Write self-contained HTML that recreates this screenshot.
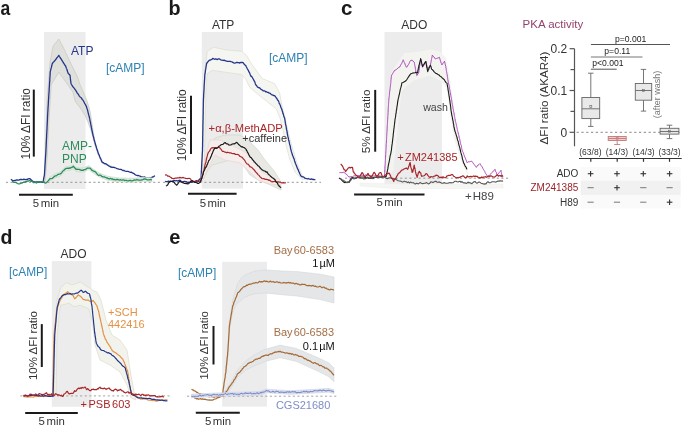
<!DOCTYPE html>
<html><head><meta charset="utf-8"><style>
html,body{margin:0;padding:0;background:#fff;width:685px;height:426px;overflow:hidden}
svg{display:block}
text{font-family:"Liberation Sans",sans-serif}
svg{will-change:transform}
</style></head><body>
<svg width="685" height="426" viewBox="0 0 685 426" font-family="Liberation Sans, sans-serif"><text x="0" y="15.2" font-size="19.5" fill="#1a1a1a" font-weight="bold" transform="translate(0.6,0) scale(0.9,1)">a</text>
<rect x="44.0" y="32.0" width="41.5" height="157.0" fill="#ececec"/>
<line x1="6.0" y1="182.3" x2="160.0" y2="182.3" stroke="#8a8a8a" stroke-width="0.9" stroke-dasharray="2.1,2.5"/>
<path d="M44.5,181.0 L45.5,150.0 L47.0,100.0 L50.0,62.0 L53.1,46.0 L58.8,39.0 L63.5,47.8 L71.0,63.8 L77.6,77.0 L80.2,85.0 L86.3,99.1 L88.6,105.7 L90.3,112.0 L91.8,122.0 L94.5,140.0 L98.5,155.0 L102.5,162.5 L112.0,166.3 L112.0,167.5 L101.8,163.0 L98.3,155.0 L94.8,145.0 L90.8,130.0 L88.1,122.6 L85.3,116.0 L80.6,108.5 L75.0,101.0 L72.9,92.0 L66.3,82.6 L58.8,72.3 L51.3,84.5 L49.0,120.0 L47.0,160.0 L45.0,182.0 Z" fill="#dfdfdb" stroke="#c4c4bb" stroke-width="0.6"/>
<path d="M10.9,179.3 L11.9,180.0 L12.9,180.9 L13.8,180.6 L14.6,180.5 L15.5,180.4 L16.4,180.0 L17.2,180.0 L18.1,180.1 L18.9,180.1 L19.8,179.7 L20.6,179.5 L21.4,179.3 L22.2,179.6 L23.1,179.6 L23.9,179.1 L24.7,179.5 L25.6,179.7 L26.5,179.5 L27.4,179.3 L28.2,178.9 L29.1,178.6 L30.0,178.7 L30.8,179.4 L31.6,180.2 L32.5,181.1 L33.3,181.8 L34.1,181.9 L34.9,181.9 L35.7,182.1 L36.5,182.0 L37.3,182.0 L38.1,182.0 L39.0,182.0 L39.8,181.9 L40.6,181.8 L41.5,182.2 L42.3,182.4 L43.1,182.4 L43.2,181.5 L43.4,180.4 L43.5,179.3 L43.7,178.5 L43.8,177.5 L44.0,177.1 L44.1,176.2 L44.3,175.7 L44.4,174.7 L44.5,174.2 L44.5,173.5 L44.6,172.1 L44.6,171.1 L44.7,170.7 L44.7,169.8 L44.8,169.3 L44.8,168.2 L44.9,167.1 L44.9,166.5 L45.0,165.9 L45.0,164.8 L45.1,163.7 L45.2,162.9 L45.2,162.6 L45.3,161.8 L45.3,160.6 L45.4,159.7 L45.4,158.7 L45.5,157.8 L45.5,157.4 L45.6,156.4 L45.6,155.7 L45.7,154.9 L45.7,153.9 L45.8,153.4 L45.8,152.3 L45.9,151.8 L45.9,150.7 L45.9,150.0 L46.0,149.1 L46.0,148.3 L46.1,147.9 L46.1,147.3 L46.1,146.2 L46.2,145.6 L46.2,144.5 L46.2,143.6 L46.3,143.1 L46.3,142.3 L46.4,141.2 L46.4,140.8 L46.4,139.7 L46.5,138.7 L46.5,138.2 L46.6,137.2 L46.6,136.3 L46.6,135.3 L46.7,134.4 L46.7,133.9 L46.8,133.0 L46.8,132.4 L46.8,131.6 L46.9,130.8 L46.9,130.4 L47.0,129.4 L47.0,128.6 L47.0,128.0 L47.1,126.8 L47.1,125.8 L47.2,125.4 L47.2,124.8 L47.2,123.6 L47.3,122.6 L47.3,122.1 L47.4,121.6 L47.4,120.4 L47.4,119.9 L47.5,119.3 L47.5,118.3 L47.5,117.3 L47.6,116.2 L47.6,115.2 L47.7,114.9 L47.7,113.9 L47.7,113.3 L47.8,112.3 L47.8,111.8 L47.9,111.0 L47.9,109.9 L48.0,108.9 L48.0,108.4 L48.1,107.3 L48.1,106.4 L48.2,105.8 L48.2,105.3 L48.3,104.5 L48.3,103.4 L48.4,102.9 L48.4,101.7 L48.5,100.6 L48.5,99.8 L48.6,99.2 L48.6,98.1 L48.7,97.3 L48.7,96.6 L48.8,96.0 L48.8,95.0 L48.9,94.2 L48.9,93.8 L49.0,93.2 L49.0,92.3 L49.1,91.5 L49.1,90.6 L49.2,89.4 L49.2,88.4 L49.3,87.4 L49.3,87.1 L49.4,86.4 L49.4,85.9 L49.5,84.5 L49.5,83.8 L49.6,83.0 L49.6,82.3 L49.7,81.3 L49.8,80.8 L49.8,79.5 L49.8,78.8 L49.9,78.1 L49.9,77.5 L50.0,76.6 L50.0,75.8 L50.1,75.0 L50.1,74.3 L50.2,73.1 L50.2,72.3 L50.3,71.7 L50.5,70.9 L50.7,69.8 L50.9,69.1 L51.1,68.4 L51.4,67.4 L51.6,66.5 L51.8,65.5 L52.0,64.7 L52.2,63.9 L52.9,62.6 L53.6,61.9 L54.3,61.3 L55.0,60.4 L55.8,59.5 L56.5,58.3 L57.3,57.5 L58.0,56.5 L58.8,55.4 L59.4,56.6 L59.9,57.1 L60.5,58.3 L61.0,58.8 L61.6,59.9 L62.1,60.8 L62.7,61.4 L63.2,62.5 L63.8,63.3 L64.3,64.2 L64.9,65.2 L65.4,65.7 L65.7,66.2 L66.0,67.1 L66.3,68.2 L66.6,68.8 L67.0,69.5 L67.3,70.8 L67.6,71.7 L67.9,72.4 L68.2,73.5 L69.1,74.2 L70.0,75.2 L70.1,75.8 L70.2,76.7 L70.3,77.8 L70.4,78.8 L70.5,79.7 L70.6,80.3 L70.7,81.1 L70.8,81.8 L70.9,82.4 L71.0,83.4 L71.5,84.5 L72.1,85.5 L72.7,86.3 L73.2,87.3 L73.8,87.7 L74.3,88.3 L74.8,89.2 L75.4,89.9 L75.9,90.7 L76.5,91.6 L77.0,92.6 L77.6,93.5 L78.3,94.2 L78.9,95.3 L79.6,96.4 L80.2,97.0 L80.9,97.5 L81.5,98.1 L82.2,99.4 L82.8,99.9 L83.5,101.0 L83.9,101.9 L84.3,102.5 L84.7,103.6 L85.1,104.0 L85.5,104.7 L85.9,105.7 L86.3,106.2 L86.7,107.5 L86.9,108.2 L87.2,108.9 L87.4,109.6 L87.7,110.7 L87.9,111.6 L88.1,112.6 L88.4,113.6 L88.6,114.6 L88.9,115.6 L89.1,116.4 L89.3,116.8 L89.4,117.6 L89.6,118.3 L89.8,118.9 L89.9,119.9 L90.1,121.1 L90.3,121.7 L90.5,122.5 L90.6,123.3 L90.8,124.4 L91.0,125.3 L91.1,126.2 L91.3,127.2 L91.5,127.9 L91.7,128.9 L91.8,129.9 L92.0,130.3 L92.2,131.5 L92.4,132.4 L92.5,132.8 L92.7,133.7 L92.9,134.7 L93.1,135.8 L93.4,136.4 L93.6,137.2 L93.8,138.2 L94.0,139.1 L94.2,140.1 L94.5,140.6 L94.7,141.5 L94.9,142.0 L95.1,143.0 L95.4,144.0 L95.6,144.8 L95.8,145.7 L96.1,146.2 L96.4,147.4 L96.7,148.5 L97.0,149.4 L97.3,150.0 L97.5,150.9 L97.8,151.5 L98.1,152.6 L98.4,153.6 L98.7,154.1 L99.0,154.7 L99.4,155.6 L99.7,156.5 L100.1,157.5 L100.4,158.3 L100.8,158.7 L101.1,159.9 L101.5,160.4 L101.8,161.6 L102.2,162.1 L103.2,162.6 L104.3,163.5 L105.3,163.7 L106.4,164.1 L107.2,164.7 L108.1,165.4 L108.9,166.0 L109.8,166.4 L110.6,167.0 L111.4,167.1 L112.2,167.5 L113.1,167.2 L113.9,167.3 L114.7,167.7 L115.5,167.8 L116.4,168.3 L117.2,168.6 L118.0,168.8 L118.8,169.2 L119.6,169.3 L120.5,169.4 L121.3,169.5 L122.1,170.1 L122.9,170.5 L123.8,170.3 L124.6,170.8 L125.4,171.2 L126.2,171.3 L127.0,171.4 L127.9,171.4 L128.7,171.7 L129.5,172.0 L130.3,172.3 L131.2,172.1 L132.0,172.8 L132.8,173.0 L133.9,173.6 L134.9,174.5 L136.0,175.1 L136.8,175.3 L137.6,175.6 L138.5,175.5 L139.3,175.9 L140.1,176.1 L140.9,176.7 L141.8,177.1 L142.6,176.9 L143.4,177.1 L144.3,177.0 L145.2,177.2 L146.1,177.7 L147.0,178.1 L147.9,178.0 L148.8,178.0 L149.7,178.0 L150.6,177.8 L151.5,177.8 L152.3,177.0 L153.2,176.9 L154.1,176.2 L155.0,175.8" fill="none" stroke="#25368a" stroke-width="1.3" stroke-linejoin="round"/>
<path d="M49.7,177.3 L50.7,176.6 L51.8,176.0 L52.8,175.3 L53.9,174.7 L54.9,174.0 L56.0,173.6 L57.0,173.2 L58.1,172.9 L59.1,172.5 L60.2,172.1 L61.2,171.0 L62.3,170.0 L63.3,168.9 L64.4,167.9 L65.4,166.8 L66.5,166.7 L67.5,166.5 L68.6,166.4 L69.6,166.2 L70.7,166.1 L72.0,165.4 L73.3,164.8 L74.7,166.2 L76.0,167.5 L77.0,167.6 L78.1,167.7 L79.1,167.9 L80.2,168.0 L81.2,168.1 L82.2,168.0 L83.2,167.8 L84.2,167.7 L85.4,167.2 L86.6,166.6 L87.7,166.1 L88.9,165.6 L90.2,166.7 L91.4,167.7 L92.7,168.8 L93.8,169.5 L94.8,170.2 L95.8,170.9 L96.9,171.6 L98.0,172.3 L99.0,173.0 L100.1,173.4 L101.1,173.8 L102.2,174.2 L103.2,174.6 L104.3,175.0 L105.4,175.4 L106.4,175.8 L107.5,176.2 L108.5,176.4 L109.6,176.5 L110.7,176.7 L111.7,176.9 L112.8,177.1 L113.8,177.2 L114.8,177.4 L115.9,177.6 L117.0,177.7 L118.0,177.9 L119.1,177.9 L120.1,178.0 L121.2,178.0 L122.2,178.0 L123.3,178.0 L124.3,178.1 L125.4,178.1 L126.5,178.1 L127.5,178.2 L128.6,178.2 L129.6,178.2 L130.7,178.2 L131.7,178.3 L132.8,178.3 L133.9,178.2 L134.9,178.1 L136.0,178.0 L137.0,177.9 L138.1,177.8 L139.2,177.6 L140.2,177.5 L141.3,177.4 L142.3,177.3 L143.4,177.2 L144.5,177.3 L145.5,177.4 L146.6,177.5 L147.6,177.6 L148.7,177.6 L149.7,177.7 L150.8,177.8 L151.8,177.9 L151.8,181.9 L150.8,181.8 L149.7,181.7 L148.7,181.6 L147.6,181.6 L146.6,181.5 L145.5,181.4 L144.5,181.3 L143.4,181.2 L142.3,181.3 L141.3,181.4 L140.2,181.5 L139.2,181.6 L138.1,181.8 L137.0,181.9 L136.0,182.0 L134.9,182.1 L133.9,182.2 L132.8,182.3 L131.7,182.3 L130.7,182.2 L129.6,182.2 L128.6,182.2 L127.5,182.2 L126.5,182.1 L125.4,182.1 L124.3,182.1 L123.3,182.0 L122.2,182.0 L121.2,182.0 L120.1,182.0 L119.1,181.9 L118.0,181.9 L117.0,181.7 L115.9,181.6 L114.8,181.4 L113.8,181.2 L112.8,181.1 L111.7,180.9 L110.7,180.7 L109.6,180.5 L108.5,180.4 L107.5,180.2 L106.4,179.8 L105.4,179.4 L104.3,179.0 L103.2,178.6 L102.2,178.2 L101.1,177.8 L100.1,177.4 L99.0,177.0 L98.0,176.3 L96.9,175.6 L95.8,174.9 L94.8,174.2 L93.8,173.5 L92.7,172.8 L91.4,171.7 L90.2,170.7 L88.9,169.6 L87.7,170.1 L86.6,170.6 L85.4,171.2 L84.2,171.7 L83.2,171.8 L82.2,172.0 L81.2,172.1 L80.2,172.0 L79.1,171.9 L78.1,171.7 L77.0,171.6 L76.0,171.5 L74.7,170.2 L73.3,168.8 L72.0,169.4 L70.7,170.1 L69.6,170.2 L68.6,170.4 L67.5,170.5 L66.5,170.7 L65.4,170.8 L64.4,171.9 L63.3,172.9 L62.3,174.0 L61.2,175.0 L60.2,176.1 L59.1,176.5 L58.1,176.9 L57.0,177.2 L56.0,177.6 L54.9,178.0 L53.9,178.7 L52.8,179.3 L51.8,180.0 L50.7,180.6 L49.7,181.3 Z" fill="#e2eae3" stroke="#bcd6c2" stroke-width="0.6"/>
<path d="M12.2,181.3 L13.1,181.9 L14.0,182.4 L14.8,182.4 L15.7,182.4 L16.6,183.0 L17.5,183.5 L18.3,183.8 L19.2,183.8 L20.0,183.6 L20.9,183.3 L21.7,183.2 L22.6,182.6 L23.4,182.4 L24.2,181.9 L25.0,182.3 L25.9,181.5 L26.7,181.7 L27.5,181.0 L28.4,181.1 L29.2,180.7 L30.0,180.4 L30.8,181.4 L31.6,181.2 L32.5,181.5 L33.3,182.7 L34.1,182.6 L34.9,182.1 L35.8,182.7 L36.6,183.0 L37.4,182.2 L38.2,182.1 L39.0,181.8 L39.8,181.7 L40.6,182.0 L41.5,181.6 L42.3,182.0 L43.1,181.5 L44.0,181.8 L44.8,182.9 L45.7,183.2 L46.5,182.4 L47.3,181.7 L48.1,180.9 L48.9,180.0 L49.7,178.8 L50.6,178.7 L51.4,178.6 L52.3,178.4 L53.2,177.6 L54.0,176.7 L54.9,175.9 L55.8,175.8 L56.7,175.6 L57.5,174.8 L58.4,174.3 L59.3,174.1 L60.2,173.9 L61.1,173.4 L61.9,172.4 L62.8,171.0 L63.7,170.7 L64.5,169.7 L65.4,168.8 L66.3,168.4 L67.2,168.4 L68.1,168.2 L68.9,168.5 L69.8,167.9 L70.7,168.0 L71.6,167.3 L72.4,167.2 L73.3,166.3 L74.2,167.2 L75.1,168.2 L76.0,169.4 L76.9,169.1 L77.7,169.4 L78.6,169.4 L79.5,169.5 L80.3,169.8 L81.2,170.4 L82.2,170.1 L83.2,170.4 L84.2,169.6 L85.1,169.7 L86.1,168.9 L87.0,168.2 L88.0,168.1 L88.9,168.1 L89.9,168.1 L90.8,168.8 L91.8,170.1 L92.7,170.7 L93.6,171.1 L94.5,171.4 L95.4,171.8 L96.3,172.9 L97.2,174.1 L98.1,175.1 L99.0,175.3 L99.8,175.0 L100.7,175.3 L101.5,176.1 L102.4,176.7 L103.2,176.9 L104.1,176.8 L105.0,177.2 L105.8,177.5 L106.7,178.0 L107.5,178.0 L108.3,178.7 L109.1,179.0 L109.9,178.5 L110.7,178.5 L111.5,179.1 L112.3,178.9 L113.2,179.5 L114.0,179.5 L114.8,179.7 L115.6,179.9 L116.4,179.5 L117.2,179.5 L118.0,179.5 L118.8,179.9 L119.6,180.1 L120.5,179.7 L121.3,180.2 L122.1,180.1 L122.9,179.8 L123.8,179.9 L124.6,180.5 L125.4,180.4 L126.2,180.4 L127.0,180.7 L127.9,180.9 L128.7,180.8 L129.5,180.4 L130.3,180.4 L131.2,180.8 L132.0,180.8 L132.8,180.7 L133.6,180.2 L134.4,180.0 L135.2,180.2 L136.1,180.1 L136.9,179.5 L137.7,179.8 L138.5,180.1 L139.3,180.1 L140.1,180.2 L141.0,180.2 L141.8,179.8 L142.6,179.8 L143.4,179.3 L144.2,178.9 L145.1,179.0 L145.9,179.1 L146.8,179.7 L147.6,179.9 L148.4,179.8 L149.3,179.9 L150.1,179.5 L151.0,179.7 L151.8,180.1" fill="none" stroke="#2d8c5c" stroke-width="1.3" stroke-linejoin="round"/>
<text x="71.0" y="55.2" font-size="12" fill="#25368a" text-anchor="start" font-weight="normal">ATP</text>
<text x="106.0" y="72.3" font-size="12" fill="#2b82b3" text-anchor="start" font-weight="normal">[cAMP]</text>
<text x="62.0" y="150.3" font-size="12" fill="#2d8c5c" text-anchor="start" font-weight="normal">AMP-</text>
<text x="62.0" y="162.7" font-size="12" fill="#2d8c5c" text-anchor="start" font-weight="normal">PNP</text>
<line x1="33.8" y1="89.6" x2="33.8" y2="156.6" stroke="#1a1a1a" stroke-width="2"/>
<text x="30.2" y="159.4" font-size="11.9" fill="#333" text-anchor="start" font-weight="normal" transform="rotate(-90 30.2 159.4)">10% ΔFI ratio</text>
<line x1="19.0" y1="194.8" x2="72.8" y2="194.8" stroke="#1a1a1a" stroke-width="2"/>
<text x="32.8" y="206.8" font-size="11.4" fill="#333" text-anchor="start" font-weight="normal">5<tspan dx='1.5'>min</tspan></text>
<text x="168.6" y="14.9" font-size="19.8" fill="#1a1a1a" text-anchor="start" font-weight="bold">b</text>
<text x="211.9" y="28.9" font-size="12" fill="#333" text-anchor="start" font-weight="normal">ATP</text>
<rect x="201.8" y="32.0" width="41.2" height="156.6" fill="#ececec"/>
<line x1="163.0" y1="182.3" x2="321.0" y2="182.3" stroke="#8a8a8a" stroke-width="0.9" stroke-dasharray="2.1,2.5"/>
<path d="M202.0,179.0 L203.0,120.0 L205.0,70.0 L207.2,51.3 L213.5,47.3 L226.2,49.9 L241.7,51.3 L246.6,55.5 L251.5,63.9 L262.3,78.6 L274.6,83.5 L279.6,92.6 L282.0,105.7 L285.5,120.0 L289.5,137.0 L293.0,150.0 L297.0,163.0 L302.0,175.0 L306.0,179.0 L302.0,179.5 L295.0,172.0 L290.0,160.0 L286.0,145.0 L283.0,130.0 L280.0,118.0 L276.3,109.0 L268.1,102.4 L259.9,95.9 L250.0,87.6 L245.9,79.4 L241.7,74.5 L226.2,72.4 L212.1,70.3 L207.2,73.8 L206.0,90.0 L205.0,130.0 L204.0,179.0 Z" fill="#f5f5f1" stroke="#d8dac8" stroke-width="0.6"/>
<path d="M165.1,181.3 L166.0,181.6 L166.9,181.6 L167.8,181.5 L168.6,181.1 L169.5,181.5 L170.4,181.6 L171.3,181.4 L172.2,181.3 L173.0,180.9 L173.9,180.5 L174.8,180.6 L175.7,180.9 L176.5,180.5 L177.4,181.0 L178.3,180.6 L179.1,180.5 L180.0,180.1 L180.8,181.1 L181.6,181.4 L182.4,181.8 L183.2,181.8 L184.0,181.3 L184.8,181.4 L185.6,181.7 L186.4,181.6 L187.2,182.4 L188.0,182.3 L188.8,182.1 L189.7,182.5 L190.5,181.9 L191.4,182.4 L192.3,182.1 L193.2,181.9 L194.0,181.6 L194.9,181.5 L195.8,181.1 L196.6,180.7 L197.5,181.2 L198.4,180.2 L199.2,179.8 L200.1,178.7 L201.0,178.5 L201.0,177.9 L201.1,177.0 L201.1,176.2 L201.2,175.2 L201.2,174.5 L201.3,173.1 L201.3,172.4 L201.3,171.9 L201.4,170.7 L201.4,170.4 L201.5,169.8 L201.5,168.7 L201.6,167.6 L201.6,166.8 L201.6,165.9 L201.7,165.7 L201.7,164.5 L201.8,163.2 L201.8,162.2 L201.9,162.0 L201.9,161.7 L201.9,160.7 L202.0,159.7 L202.0,158.9 L202.1,158.3 L202.1,157.1 L202.2,156.5 L202.2,155.7 L202.2,155.0 L202.3,153.8 L202.3,152.8 L202.4,152.0 L202.4,151.8 L202.5,150.8 L202.5,150.1 L202.5,149.0 L202.5,147.9 L202.5,146.9 L202.6,146.8 L202.6,146.2 L202.6,145.2 L202.6,144.5 L202.6,143.8 L202.6,143.3 L202.6,142.7 L202.7,141.4 L202.7,140.9 L202.7,140.3 L202.7,139.2 L202.7,138.5 L202.7,137.4 L202.7,136.3 L202.8,135.2 L202.8,134.9 L202.8,133.7 L202.8,132.5 L202.8,132.3 L202.8,131.7 L202.8,130.8 L202.9,130.2 L202.9,128.8 L202.9,127.9 L202.9,127.0 L202.9,126.3 L202.9,125.3 L202.9,124.3 L203.0,123.7 L203.0,123.5 L203.0,123.1 L203.0,122.3 L203.0,121.2 L203.0,120.0 L203.1,119.8 L203.1,118.8 L203.1,118.1 L203.1,116.6 L203.1,115.7 L203.1,115.4 L203.1,114.9 L203.2,114.3 L203.2,113.3 L203.2,112.2 L203.2,111.4 L203.2,110.9 L203.2,109.7 L203.2,108.9 L203.3,107.9 L203.3,107.4 L203.3,106.0 L203.3,105.6 L203.3,105.3 L203.3,103.8 L203.3,103.2 L203.4,102.5 L203.4,102.0 L203.4,101.1 L203.4,99.9 L203.4,99.0 L203.5,98.7 L203.5,98.1 L203.6,96.6 L203.6,95.4 L203.7,94.4 L203.7,93.4 L203.8,92.9 L203.8,92.0 L203.9,91.8 L203.9,91.1 L204.0,89.8 L204.0,89.2 L204.1,88.2 L204.1,87.5 L204.1,86.4 L204.2,85.4 L204.2,84.6 L204.3,83.9 L204.3,83.5 L204.4,82.7 L204.4,81.4 L204.5,81.0 L204.5,80.5 L204.6,79.8 L204.6,79.0 L204.7,77.4 L204.7,76.7 L204.8,75.5 L204.8,75.2 L204.9,74.1 L205.0,73.6 L205.2,72.6 L205.3,72.1 L205.4,71.0 L205.5,69.8 L205.7,69.2 L205.8,68.4 L205.9,68.1 L206.0,67.0 L206.1,66.3 L206.3,65.5 L206.4,65.2 L206.5,63.7 L207.0,63.0 L207.6,62.2 L208.1,61.5 L208.6,61.0 L209.4,60.2 L210.2,60.1 L211.1,59.7 L211.9,59.3 L212.7,58.5 L213.5,58.7 L214.4,59.3 L215.2,59.0 L216.1,58.9 L217.0,59.6 L217.9,59.1 L218.8,58.9 L219.6,58.9 L220.5,59.7 L221.4,60.2 L222.3,60.2 L223.2,60.5 L224.1,60.1 L224.9,60.7 L225.8,60.9 L226.7,61.2 L227.6,61.3 L228.5,61.4 L229.3,61.4 L230.2,61.3 L231.1,61.7 L232.0,61.8 L232.8,62.4 L233.7,62.9 L234.6,63.2 L235.4,62.9 L236.3,62.5 L237.2,62.5 L238.0,62.6 L238.8,62.7 L239.7,63.1 L240.5,62.4 L241.4,62.5 L242.2,62.5 L243.1,62.7 L244.0,64.0 L245.0,65.0 L245.9,65.8 L246.3,66.7 L246.7,67.5 L247.2,68.5 L247.6,69.2 L248.0,70.0 L248.4,70.4 L248.8,71.7 L249.3,72.2 L249.7,73.1 L250.1,74.2 L250.6,75.4 L251.1,76.4 L251.6,76.4 L252.1,77.2 L252.6,78.0 L253.1,78.9 L253.6,79.6 L254.0,80.8 L254.5,81.3 L254.9,82.2 L255.3,83.7 L255.7,84.7 L256.2,85.3 L256.6,85.7 L257.4,86.9 L258.2,87.5 L259.0,87.6 L259.9,88.1 L260.7,89.0 L261.5,89.7 L262.3,90.0 L263.1,90.8 L264.0,90.8 L264.8,90.9 L265.6,91.8 L266.4,91.7 L267.3,92.3 L268.1,92.3 L268.9,93.0 L269.7,93.2 L270.5,93.6 L271.4,94.6 L272.2,94.8 L273.0,95.1 L273.8,95.6 L274.6,95.7 L275.2,96.3 L275.8,97.2 L276.4,98.0 L277.0,98.7 L277.6,100.2 L278.2,100.4 L278.8,101.7 L279.1,102.9 L279.4,103.7 L279.7,103.8 L280.0,104.8 L280.3,105.2 L280.6,106.4 L280.9,107.5 L281.2,108.0 L281.5,108.4 L281.8,109.6 L282.0,110.1 L282.3,111.0 L282.6,112.0 L282.9,113.3 L283.1,113.9 L283.4,114.4 L283.7,115.7 L284.0,116.7 L284.2,117.4 L284.5,117.7 L284.7,118.3 L284.8,119.3 L285.0,120.4 L285.1,121.0 L285.3,122.3 L285.4,123.4 L285.6,124.4 L285.7,125.3 L285.9,125.3 L286.0,126.3 L286.2,126.7 L286.3,128.1 L286.5,129.1 L286.6,130.0 L286.8,130.3 L286.9,130.7 L287.1,132.1 L287.2,133.0 L287.4,133.9 L287.5,134.6 L287.7,135.7 L287.8,136.2 L288.0,136.8 L288.2,137.5 L288.4,138.3 L288.5,139.4 L288.7,140.6 L288.9,140.8 L289.1,141.3 L289.3,142.4 L289.5,143.5 L289.6,144.0 L289.8,144.7 L290.0,145.2 L290.2,145.9 L290.4,147.1 L290.6,148.3 L290.7,149.2 L290.9,149.6 L291.1,150.2 L291.4,151.7 L291.7,152.5 L292.0,153.2 L292.2,154.3 L292.5,155.2 L292.8,156.0 L293.1,156.3 L293.4,157.6 L293.7,158.1 L294.0,158.6 L294.3,159.6 L294.5,160.7 L294.8,161.7 L295.1,162.2 L295.4,163.5 L295.8,164.3 L296.1,164.7 L296.5,166.1 L296.9,167.1 L297.3,168.1 L297.6,168.9 L298.0,169.2 L298.4,170.3 L298.7,171.4 L299.1,172.0 L299.5,173.1 L299.9,174.1 L300.2,174.4 L300.6,175.6 L301.5,176.4 L302.3,176.9 L303.2,176.8 L304.0,177.3 L304.9,178.2 L305.7,178.4 L306.5,178.7 L307.4,178.9 L308.2,178.5 L309.0,179.1 L309.9,179.1 L310.8,179.4 L311.7,178.9 L312.7,179.5 L313.6,179.4 L314.5,179.6 L315.4,179.7" fill="none" stroke="#25368a" stroke-width="1.3" stroke-linejoin="round"/>
<path d="M201.0,181.0 L205.0,160.0 L210.0,145.0 L215.0,138.0 L225.0,135.0 L240.0,135.0 L248.0,140.0 L258.0,150.0 L265.0,160.0 L275.0,172.0 L281.0,182.0 L281.0,190.0 L268.0,184.0 L258.0,180.0 L250.0,175.0 L242.0,163.0 L230.0,160.0 L212.0,165.0 L208.0,170.0 L201.0,183.0 Z" fill="#e8e9e4" stroke="#cdd2c4" stroke-width="0.6"/>
<path d="M201.0,180.0 L205.0,160.0 L210.0,140.0 L220.0,140.0 L235.0,147.0 L245.0,152.0 L255.0,162.0 L262.0,172.0 L275.0,179.0 L280.0,185.0 L270.0,184.0 L258.0,180.0 L250.0,172.0 L240.0,163.0 L225.0,160.0 L215.0,155.0 L208.0,168.0 L202.0,182.0 Z" fill="#f6eeec" stroke="#e6d3cf" stroke-width="0.6"/>
<path d="M165.1,175.1 L166.0,174.9 L166.8,175.0 L167.7,176.2 L168.6,176.2 L169.5,176.4 L170.4,177.2 L171.2,177.5 L172.1,178.5 L173.0,178.5 L173.9,178.8 L174.8,178.2 L175.7,178.1 L176.5,178.2 L177.4,177.9 L178.3,177.9 L179.1,177.9 L179.9,177.3 L180.7,177.8 L181.6,177.8 L182.4,177.6 L183.2,177.4 L184.0,178.0 L184.8,178.0 L185.6,178.4 L186.4,178.5 L187.3,178.7 L188.1,178.4 L188.9,178.5 L189.7,178.4 L190.6,179.1 L191.4,180.7 L192.3,180.5 L193.1,181.0 L194.0,181.5 L194.9,181.5 L195.8,181.1 L196.6,181.7 L197.5,181.9 L198.5,181.4 L199.6,181.0 L200.6,181.3 L200.9,180.0 L201.2,179.9 L201.5,179.0 L201.8,178.1 L202.0,177.1 L202.3,176.4 L202.6,175.9 L202.9,174.6 L203.2,173.6 L203.4,172.9 L203.5,171.9 L203.7,171.2 L203.9,170.5 L204.1,169.6 L204.2,168.9 L204.4,168.1 L204.6,166.8 L204.8,166.7 L204.9,165.5 L205.1,164.6 L205.3,163.7 L205.5,163.3 L205.8,162.8 L206.0,161.6 L206.2,160.5 L206.4,159.2 L206.6,158.9 L206.8,157.6 L207.0,156.9 L207.3,155.9 L207.5,155.0 L207.7,154.1 L208.2,153.1 L208.6,152.0 L209.1,151.6 L209.5,151.2 L210.0,150.4 L210.4,149.2 L210.9,148.6 L211.9,147.8 L212.9,147.6 L213.8,147.8 L214.8,147.8 L215.7,147.5 L216.5,147.8 L217.4,147.5 L218.2,147.4 L219.1,147.5 L219.9,147.9 L220.6,148.8 L221.2,149.4 L221.8,150.5 L222.5,151.4 L223.4,151.3 L224.2,151.8 L225.1,152.2 L226.0,152.3 L226.8,152.8 L227.7,152.2 L228.5,152.5 L229.4,152.9 L230.2,152.9 L231.1,152.9 L232.0,153.5 L232.8,153.6 L233.7,153.7 L234.5,153.5 L235.4,154.5 L236.3,154.5 L237.1,154.4 L238.0,154.5 L239.0,155.2 L239.9,156.4 L240.9,156.7 L241.9,157.2 L242.6,157.8 L243.4,158.9 L244.1,159.6 L244.8,160.5 L245.5,161.8 L246.3,163.0 L247.0,164.0 L248.0,164.2 L248.9,165.1 L249.9,166.6 L250.9,167.0 L251.9,167.6 L252.9,168.7 L253.8,169.5 L254.8,170.6 L255.4,171.7 L256.1,172.4 L256.7,173.0 L257.4,173.7 L258.0,174.6 L259.0,175.4 L260.1,176.9 L261.1,177.7 L261.9,178.5 L262.8,178.8 L263.6,178.5 L264.5,178.9 L265.3,179.4 L266.2,179.2 L267.0,179.6 L267.8,179.5 L268.7,180.3 L269.5,180.1 L270.4,180.7 L271.2,181.5 L272.1,181.9 L272.9,181.6 L273.7,181.7 L274.5,181.4 L275.3,181.5 L276.1,182.1 L276.9,182.4 L277.7,181.8 L278.5,181.9 L279.4,182.2 L280.2,182.0 L281.0,182.5 L281.8,182.9 L282.6,182.8 L283.4,182.6 L284.2,183.0 L285.0,182.9 L285.8,182.6" fill="none" stroke="#a8262a" stroke-width="1.2" stroke-linejoin="round"/>
<path d="M166.0,186.1 L166.9,185.5 L167.8,184.7 L168.6,182.9 L169.5,182.2 L170.4,181.1 L171.3,181.5 L172.2,181.4 L173.0,181.6 L173.9,182.1 L174.6,182.9 L175.2,183.9 L175.8,184.4 L176.5,185.1 L177.0,184.9 L177.6,184.1 L178.1,183.3 L178.7,182.7 L179.2,181.6 L180.1,181.2 L180.9,182.0 L181.8,182.3 L182.6,182.6 L183.5,182.8 L184.4,183.5 L185.3,183.2 L186.1,183.7 L187.0,183.6 L187.9,183.9 L188.8,183.4 L189.7,182.5 L190.5,181.5 L191.4,181.1 L192.3,180.9 L193.2,181.5 L194.0,181.8 L194.9,182.5 L195.8,182.5 L196.6,182.8 L197.5,183.3 L198.5,183.5 L199.6,182.6 L200.6,181.9 L200.8,180.9 L201.1,179.9 L201.3,179.3 L201.5,179.0 L201.7,178.7 L202.0,177.5 L202.2,176.6 L202.4,175.6 L202.7,174.8 L202.9,174.5 L203.1,173.7 L203.3,172.5 L203.6,171.3 L203.8,171.1 L204.2,170.6 L204.6,170.0 L205.0,168.6 L205.4,167.9 L205.8,167.5 L206.3,166.6 L206.7,166.1 L207.1,164.5 L207.5,164.3 L207.9,162.7 L208.3,161.9 L208.7,160.6 L209.0,160.5 L209.4,159.9 L209.7,159.5 L210.1,158.7 L210.4,158.1 L210.8,156.9 L211.1,156.4 L211.5,155.5 L211.8,154.1 L212.2,153.8 L212.7,152.4 L213.2,151.0 L213.8,149.7 L214.3,149.1 L214.8,148.0 L215.9,148.3 L216.9,148.4 L218.0,147.3 L219.0,146.2 L219.9,145.8 L220.9,144.9 L221.9,144.5 L223.0,144.3 L224.0,143.2 L225.1,142.5 L226.1,143.6 L227.1,143.8 L228.0,144.1 L229.0,145.1 L229.8,145.0 L230.7,145.0 L231.5,144.6 L232.4,144.0 L233.2,143.9 L234.1,143.9 L235.0,143.6 L235.8,142.8 L236.7,142.4 L237.7,143.3 L238.6,144.5 L239.6,145.3 L240.6,146.1 L241.4,146.9 L242.3,146.6 L243.1,147.3 L244.0,147.5 L244.8,148.1 L245.7,148.9 L246.1,149.3 L246.6,150.7 L247.0,150.8 L247.4,151.9 L247.9,152.9 L248.3,153.4 L248.7,154.5 L249.2,155.4 L249.6,156.2 L250.4,157.4 L251.2,157.6 L251.9,158.6 L252.7,160.0 L253.5,160.4 L254.2,161.9 L255.0,162.3 L255.8,163.5 L256.5,163.9 L257.2,164.9 L258.0,165.8 L258.9,166.2 L259.8,167.5 L260.6,168.3 L261.5,169.3 L262.4,170.0 L263.3,170.5 L264.2,170.9 L265.2,171.1 L266.1,172.1 L267.0,171.9 L267.8,173.3 L268.6,174.4 L269.5,175.0 L270.3,176.0 L271.1,176.7 L271.9,177.5 L272.7,177.9 L273.6,178.5 L274.4,179.3 L275.2,180.0 L275.8,181.6 L276.4,182.0 L277.0,182.7 L277.6,183.5 L278.1,184.8 L278.7,185.4 L279.3,186.3 L279.9,186.7 L280.5,187.4 L281.1,187.9" fill="none" stroke="#1a1a1a" stroke-width="1.2" stroke-linejoin="round"/>
<text x="269.0" y="62.1" font-size="12" fill="#2b82b3" text-anchor="start" font-weight="normal">[cAMP]</text>
<text x="208.6" y="131.6" font-size="11.2" fill="#a8262a" text-anchor="start" font-weight="normal">+α,β-MethADP</text>
<text x="242.3" y="142.4" font-size="11" fill="#333" text-anchor="start" font-weight="normal">+caffeine</text>
<line x1="191.0" y1="95.8" x2="191.0" y2="154.0" stroke="#1a1a1a" stroke-width="2"/>
<text x="186.3" y="161.3" font-size="12" fill="#333" text-anchor="start" font-weight="normal" transform="rotate(-90 186.3 161.3)">10% ΔFI ratio</text>
<line x1="188.0" y1="193.8" x2="236.6" y2="193.8" stroke="#1a1a1a" stroke-width="2"/>
<text x="199.7" y="206.7" font-size="11.4" fill="#333" text-anchor="start" font-weight="normal">5<tspan dx='1.5'>min</tspan></text>
<text x="340.9" y="15.3" font-size="20.5" fill="#1a1a1a" text-anchor="start" font-weight="bold">c</text>
<text x="401.3" y="28.9" font-size="12" fill="#333" text-anchor="start" font-weight="normal">ADO</text>
<rect x="384.5" y="32.0" width="57.4" height="156.0" fill="#ececec"/>
<line x1="345.0" y1="178.2" x2="509.0" y2="178.2" stroke="#8a8a8a" stroke-width="0.9" stroke-dasharray="2.1,2.5"/>
<path d="M386.0,176.0 L389.0,110.0 L392.0,72.0 L400.0,60.0 L405.0,53.0 L412.0,53.0 L420.0,52.0 L430.0,50.0 L440.0,52.0 L446.0,58.0 L450.0,80.0 L455.0,120.0 L460.0,150.0 L468.0,172.0 L468.0,176.0 L460.0,158.0 L454.0,138.0 L450.0,112.0 L447.0,88.0 L440.0,80.0 L430.0,75.0 L414.0,80.0 L406.0,86.0 L401.0,92.0 L397.0,130.0 L393.0,170.0 L387.0,178.0 Z" fill="#f3f3f0" stroke="#f7f7f2" stroke-width="0.6"/>
<path d="M360.0,183.0 L400.0,184.0 L503.0,184.0 L503.0,188.0 L400.0,189.0 L360.0,186.0 Z" fill="#f5f5f3" stroke="#efefea" stroke-width="0.6"/>
<path d="M339.4,172.7 L340.3,172.5 L341.2,172.6 L342.0,172.8 L342.9,172.5 L343.8,172.2 L344.7,172.8 L345.5,173.8 L346.4,174.1 L347.3,175.3 L348.1,176.4 L349.0,176.9 L349.9,176.9 L350.7,176.7 L351.6,176.5 L352.4,176.8 L353.3,176.2 L354.1,175.7 L355.0,176.1 L355.8,175.9 L356.7,175.6 L357.5,175.5 L358.3,175.4 L359.2,175.8 L360.0,175.4 L360.8,175.1 L361.7,175.3 L362.5,175.3 L363.3,175.5 L364.2,175.5 L365.0,175.1 L365.8,174.9 L366.7,175.3 L367.5,175.7 L368.3,175.2 L369.2,175.5 L370.0,175.9 L370.8,175.9 L371.7,175.6 L372.5,175.9 L373.3,176.1 L374.2,175.8 L375.0,176.1 L375.9,175.8 L376.7,175.5 L377.6,175.6 L378.5,175.7 L379.3,175.8 L380.2,176.0 L381.0,176.3 L381.9,176.5 L382.8,176.6 L383.6,176.7 L384.5,176.6 L384.5,175.3 L384.6,174.2 L384.6,173.6 L384.7,172.8 L384.7,172.2 L384.8,171.0 L384.8,170.0 L384.9,169.8 L384.9,169.0 L384.9,168.2 L385.0,167.0 L385.0,166.2 L385.1,165.8 L385.1,165.0 L385.2,164.5 L385.2,163.2 L385.3,162.4 L385.3,161.8 L385.3,160.9 L385.4,160.3 L385.4,159.4 L385.5,158.2 L385.5,157.2 L385.6,157.0 L385.6,155.8 L385.7,154.8 L385.7,154.1 L385.7,153.6 L385.8,153.1 L385.8,152.1 L385.9,151.3 L385.9,150.7 L386.0,149.6 L386.0,148.7 L386.1,148.0 L386.1,147.3 L386.1,146.1 L386.2,145.1 L386.2,144.3 L386.3,143.9 L386.3,143.3 L386.4,142.8 L386.4,142.0 L386.5,140.8 L386.5,140.2 L386.5,139.7 L386.6,138.5 L386.6,137.3 L386.7,136.5 L386.7,135.7 L386.8,134.8 L386.8,133.8 L386.9,133.0 L386.9,132.8 L387.0,131.6 L387.0,131.1 L387.1,130.1 L387.1,129.2 L387.1,128.9 L387.2,127.9 L387.2,126.9 L387.3,126.2 L387.3,125.7 L387.4,124.8 L387.4,124.3 L387.5,123.3 L387.5,122.5 L387.6,121.8 L387.6,120.9 L387.6,120.2 L387.7,119.3 L387.7,118.1 L387.8,117.2 L387.8,116.8 L387.9,116.2 L387.9,115.7 L388.0,114.8 L388.0,113.9 L388.1,112.7 L388.1,112.2 L388.2,111.0 L388.2,110.2 L388.2,109.2 L388.3,108.5 L388.3,107.7 L388.4,107.0 L388.4,106.5 L388.5,105.7 L388.5,104.6 L388.6,104.1 L388.6,103.5 L388.7,102.8 L388.7,101.4 L388.8,100.8 L388.8,100.3 L388.9,99.1 L389.0,98.1 L389.1,97.7 L389.2,96.7 L389.3,95.8 L389.4,95.3 L389.5,94.2 L389.5,93.2 L389.6,92.2 L389.7,91.5 L389.8,91.0 L389.9,90.0 L390.0,89.5 L390.1,88.2 L390.2,87.3 L390.3,86.8 L390.4,86.0 L390.5,85.2 L390.6,84.7 L390.7,83.5 L390.8,82.5 L390.9,81.4 L390.9,80.8 L391.0,79.9 L391.1,79.2 L391.2,78.1 L391.3,77.1 L391.4,76.5 L391.5,76.1 L391.6,75.1 L392.1,74.6 L392.6,73.7 L393.2,72.6 L393.7,71.9 L394.2,70.7 L395.1,70.2 L395.9,69.8 L396.8,69.1 L397.9,68.2 L398.9,67.2 L400.0,66.8 L400.4,65.7 L400.8,64.9 L401.2,64.1 L401.6,63.7 L402.0,62.8 L402.4,61.7 L402.8,61.1 L403.2,59.8 L403.6,60.6 L403.9,61.6 L404.3,62.5 L404.7,63.1 L405.0,64.0 L405.4,65.2 L405.8,65.8 L406.1,66.8 L406.5,67.3 L407.0,66.9 L407.5,66.1 L408.0,65.0 L408.5,64.5 L409.0,63.7 L409.5,62.3 L410.0,61.3 L410.5,60.5 L411.0,60.1 L412.1,60.5 L413.1,61.1 L414.2,62.0 L414.4,62.7 L414.5,63.7 L414.7,64.7 L414.8,65.5 L415.0,66.1 L415.1,66.6 L415.3,68.0 L415.4,68.7 L415.6,69.6 L415.7,70.4 L415.9,71.3 L416.0,72.4 L416.2,73.3 L416.3,74.0 L416.5,74.5 L416.6,75.0 L416.8,75.6 L417.3,75.2 L417.8,74.0 L418.2,73.4 L418.7,73.0 L418.8,71.9 L418.9,70.9 L419.1,70.1 L419.2,69.6 L419.3,68.8 L419.4,68.1 L419.5,66.6 L419.6,66.1 L419.8,65.1 L419.9,64.2 L420.0,63.6 L420.1,62.9 L420.2,62.2 L420.4,61.3 L420.5,60.6 L420.6,59.4 L420.8,60.2 L421.0,61.2 L421.2,61.8 L421.4,62.3 L421.6,63.4 L421.8,64.5 L422.0,65.5 L422.2,65.8 L422.4,66.6 L422.6,67.3 L423.0,66.5 L423.4,66.2 L423.8,65.2 L424.2,64.2 L424.6,63.3 L425.0,62.6 L425.4,62.0 L425.8,61.0 L426.0,61.6 L426.2,62.4 L426.4,63.2 L426.6,64.6 L426.8,65.1 L426.9,66.2 L427.1,66.7 L427.3,67.9 L427.5,68.5 L427.7,69.7 L428.4,68.5 L429.0,67.2 L429.6,66.1 L430.3,65.6 L430.5,64.8 L430.6,63.9 L430.8,62.9 L431.0,62.3 L431.1,61.3 L431.3,60.1 L431.5,59.5 L431.6,58.5 L431.8,58.1 L432.0,57.1 L432.1,56.4 L432.3,55.1 L433.1,56.2 L433.9,57.0 L434.7,58.0 L435.5,59.0 L436.5,58.5 L437.4,58.1 L438.4,57.9 L439.4,57.3 L439.7,58.2 L440.0,59.3 L440.2,60.1 L440.5,60.9 L440.8,61.9 L441.1,63.0 L441.3,63.4 L441.6,63.8 L441.9,64.9 L442.5,63.7 L443.2,63.3 L443.9,62.2 L444.5,61.2 L444.7,62.2 L444.9,63.2 L445.1,63.5 L445.2,64.3 L445.4,65.0 L445.6,65.9 L445.8,66.5 L445.9,67.8 L446.1,68.5 L446.2,69.3 L446.3,70.5 L446.5,71.4 L446.6,71.9 L446.8,72.7 L446.9,73.7 L447.0,74.2 L447.2,74.8 L447.3,76.1 L447.4,76.6 L447.6,77.7 L447.7,78.7 L447.8,79.5 L448.0,80.1 L448.1,81.3 L448.3,82.2 L448.4,82.5 L448.6,83.7 L448.8,84.5 L448.9,85.1 L449.1,85.6 L449.2,86.3 L449.4,87.6 L449.5,88.7 L449.6,89.3 L449.8,89.8 L449.9,90.4 L450.1,91.4 L450.2,92.2 L450.4,92.9 L450.6,93.8 L450.7,95.1 L450.9,95.5 L451.0,96.5 L451.2,97.4 L451.3,98.0 L451.5,98.6 L451.6,99.4 L451.7,100.2 L451.9,101.7 L452.0,102.7 L452.2,103.5 L452.3,104.5 L452.5,104.9 L452.6,105.5 L452.8,106.6 L452.9,107.4 L453.0,108.4 L453.2,108.9 L453.3,109.6 L453.5,110.6 L453.6,111.6 L453.8,111.9 L453.9,112.6 L454.0,113.1 L454.2,114.2 L454.3,115.4 L454.5,116.2 L454.6,116.6 L454.8,117.7 L454.9,118.5 L455.1,119.0 L455.2,120.2 L455.4,121.0 L455.6,121.7 L455.8,122.3 L455.9,122.9 L456.1,123.8 L456.3,124.6 L456.5,125.3 L456.7,126.4 L456.9,127.3 L457.1,128.4 L457.3,129.4 L457.4,129.9 L457.6,130.7 L457.8,131.3 L458.0,132.0 L458.2,132.9 L458.4,134.0 L458.6,134.3 L458.8,135.1 L458.9,135.9 L459.1,137.0 L459.3,138.1 L459.5,138.7 L459.7,139.0 L459.9,140.0 L460.1,140.9 L460.2,141.8 L460.4,142.8 L460.6,143.4 L460.8,144.2 L461.0,145.1 L461.2,145.4 L461.4,146.2 L461.6,147.3 L461.7,148.5 L461.9,149.4 L462.1,149.8 L462.3,150.9 L462.6,151.4 L463.0,152.2 L463.3,152.7 L463.6,153.8 L463.9,154.6 L464.3,155.6 L464.6,156.8 L464.9,157.2 L465.3,158.2 L465.6,159.0 L465.9,159.7 L466.2,160.2 L466.6,161.6 L466.9,162.5 L467.8,162.3 L468.8,161.6 L469.7,161.8 L470.7,161.4 L471.6,161.1 L472.3,162.0 L472.9,162.7 L473.6,163.9 L474.3,164.6 L475.0,165.5 L475.6,166.4 L476.3,167.4 L477.2,166.0 L478.1,165.0 L479.0,164.6 L479.9,163.6 L480.4,164.2 L480.9,165.4 L481.3,165.7 L481.8,166.4 L482.3,167.1 L482.8,168.3 L483.3,169.1 L483.8,169.8 L484.2,170.7 L484.7,171.4 L485.2,172.6 L485.7,173.6 L486.2,174.2 L486.7,175.3 L487.1,175.6 L487.6,176.6 L488.1,177.2 L488.8,176.2 L489.5,175.7 L490.2,174.6 L490.9,173.7 L491.6,172.8 L492.3,172.2 L493.0,171.8 L493.7,170.8 L494.4,169.8 L495.1,169.3 L495.4,170.4 L495.6,171.5 L495.9,171.6 L496.2,172.2 L496.5,173.2 L496.7,174.5 L497.0,175.2 L497.8,174.5 L498.6,173.2 L499.4,172.3 L500.2,171.5 L501.0,170.3 L501.1,171.3 L501.3,172.5 L501.4,173.5 L501.6,174.3 L501.8,175.3 L501.9,176.4 L502.1,177.0 L502.2,177.5" fill="none" stroke="#a848b8" stroke-width="1.0" stroke-linejoin="round"/>
<path d="M339.0,178.1 L340.1,178.7 L341.2,179.3 L342.1,180.6 L342.9,181.3 L343.8,182.2 L344.7,182.6 L345.6,182.4 L346.4,182.5 L347.3,182.2 L348.1,182.2 L349.0,182.0 L349.7,180.8 L350.4,179.4 L351.0,178.9 L351.7,177.7 L352.5,177.4 L353.4,177.8 L354.2,178.1 L355.0,178.2 L355.9,178.3 L356.7,177.7 L357.5,177.3 L358.3,177.1 L359.2,177.7 L360.0,177.3 L360.8,177.2 L361.7,177.0 L362.5,177.0 L363.3,177.0 L364.2,177.2 L365.0,177.2 L365.8,177.4 L366.7,178.0 L367.5,177.7 L368.3,178.1 L369.2,178.2 L370.0,178.2 L370.8,178.1 L371.7,178.1 L372.5,178.0 L373.3,177.6 L374.2,177.4 L375.0,177.2 L375.8,177.2 L376.7,177.6 L377.5,177.3 L378.3,176.9 L379.2,176.9 L380.0,177.2 L380.9,177.0 L381.7,177.2 L382.6,176.8 L383.5,176.5 L384.4,176.9 L385.2,176.6 L386.1,176.6 L386.3,175.9 L386.4,175.0 L386.6,174.0 L386.7,173.1 L386.9,172.9 L387.1,172.3 L387.2,171.7 L387.4,170.7 L387.5,170.1 L387.7,169.3 L387.9,168.4 L388.0,167.4 L388.2,166.5 L388.3,165.4 L388.5,164.5 L388.7,164.0 L388.8,162.9 L389.0,162.5 L389.2,161.6 L389.3,160.8 L389.5,160.1 L389.6,159.3 L389.8,158.0 L390.0,157.1 L390.1,156.0 L390.3,155.1 L390.4,154.9 L390.6,154.2 L390.8,153.7 L390.9,152.9 L391.1,151.7 L391.2,151.2 L391.4,150.5 L391.5,149.4 L391.6,148.2 L391.7,147.3 L391.8,146.4 L391.9,145.6 L392.0,144.6 L392.1,144.3 L392.2,143.9 L392.3,142.6 L392.4,142.1 L392.5,141.2 L392.6,140.3 L392.7,139.8 L392.8,138.7 L392.9,138.1 L393.0,136.8 L393.1,136.5 L393.2,135.3 L393.2,134.1 L393.3,133.9 L393.4,133.2 L393.5,132.4 L393.6,131.7 L393.7,130.6 L393.8,129.5 L393.9,128.6 L394.0,128.3 L394.1,127.8 L394.2,126.5 L394.3,125.6 L394.4,124.8 L394.5,124.4 L394.6,123.0 L394.7,122.6 L394.8,121.5 L394.9,120.8 L395.0,119.7 L395.1,118.7 L395.2,118.5 L395.4,117.6 L395.5,117.2 L395.6,116.5 L395.7,115.6 L395.8,114.3 L396.0,113.6 L396.1,113.2 L396.2,112.2 L396.3,111.0 L396.4,110.0 L396.6,109.8 L396.7,109.3 L396.8,108.0 L396.9,107.1 L397.0,106.5 L397.2,105.7 L397.3,104.6 L397.4,104.3 L397.5,103.4 L397.6,102.4 L397.8,101.2 L397.9,100.6 L398.0,100.1 L398.2,99.0 L398.4,98.0 L398.6,97.5 L398.7,97.1 L398.9,96.0 L399.1,95.2 L399.3,94.5 L399.5,93.6 L399.7,92.5 L399.9,91.6 L400.0,90.8 L400.2,89.9 L400.4,89.0 L400.6,88.4 L400.8,87.5 L401.0,87.2 L401.2,86.2 L401.3,85.8 L401.5,85.1 L401.7,83.9 L401.9,82.8 L402.9,82.5 L403.9,82.0 L404.8,81.6 L405.8,80.8 L406.4,80.1 L406.9,79.5 L407.5,78.5 L408.1,77.4 L408.6,76.9 L409.2,75.7 L409.7,75.3 L410.3,74.3 L411.2,73.5 L412.1,73.3 L413.0,72.9 L413.9,73.0 L414.8,72.7 L415.7,72.3 L416.5,72.9 L417.4,73.0 L417.6,72.1 L417.8,71.2 L418.0,69.9 L418.2,69.6 L418.3,68.5 L418.5,67.7 L418.7,66.8 L418.9,66.0 L419.1,64.8 L419.3,64.5 L419.5,63.6 L419.7,62.6 L419.8,62.1 L420.0,61.4 L420.2,60.6 L420.4,59.9 L420.6,58.6 L420.8,59.1 L421.0,60.0 L421.3,61.1 L421.5,62.2 L421.7,63.1 L421.9,63.9 L422.2,64.8 L422.4,65.7 L422.6,66.5 L423.2,65.1 L423.9,64.4 L424.5,63.4 L425.2,62.2 L425.8,61.7 L426.0,62.8 L426.1,63.3 L426.3,64.3 L426.4,65.2 L426.6,66.1 L426.8,67.1 L426.9,67.8 L427.1,68.1 L427.2,69.1 L427.4,69.8 L427.5,70.6 L427.7,71.6 L428.0,70.5 L428.4,69.9 L428.7,69.4 L429.0,68.1 L429.3,67.6 L429.6,66.9 L430.0,65.9 L430.3,65.2 L430.6,65.8 L431.0,66.6 L431.3,68.1 L431.6,69.1 L432.5,69.8 L433.3,70.7 L434.2,71.9 L435.1,72.6 L435.9,73.5 L436.8,73.6 L437.7,74.3 L438.5,74.8 L439.4,75.3 L440.3,76.5 L441.3,76.8 L442.2,77.9 L443.2,78.8 L443.9,79.3 L444.5,79.9 L445.1,81.1 L445.8,82.3 L446.5,82.9 L447.1,83.4 L447.2,84.4 L447.4,85.4 L447.5,86.1 L447.6,86.9 L447.8,87.4 L447.9,88.1 L448.0,88.9 L448.1,90.2 L448.3,90.7 L448.4,91.5 L448.5,92.4 L448.7,93.1 L448.8,93.9 L448.9,95.1 L449.1,95.7 L449.2,96.7 L449.3,97.2 L449.4,98.2 L449.6,99.3 L449.7,100.0 L449.8,100.6 L449.9,101.1 L450.0,102.0 L450.1,103.0 L450.2,103.6 L450.4,104.6 L450.5,105.6 L450.6,106.1 L450.7,107.3 L450.8,108.5 L450.9,109.3 L451.0,109.9 L451.1,110.9 L451.3,111.9 L451.4,112.8 L451.6,113.7 L451.7,114.4 L451.8,115.3 L452.0,116.0 L452.1,116.4 L452.3,116.8 L452.4,117.8 L452.5,118.8 L452.7,119.4 L452.8,120.1 L453.0,120.7 L453.1,121.3 L453.2,122.2 L453.4,123.6 L453.5,124.0 L453.7,124.7 L453.8,125.7 L453.9,127.0 L454.1,127.5 L454.2,128.0 L454.4,128.6 L454.5,129.6 L454.8,130.2 L455.0,131.5 L455.3,132.1 L455.6,132.9 L455.8,133.6 L456.1,134.6 L456.3,135.3 L456.6,136.2 L456.9,137.1 L457.1,138.0 L457.4,139.2 L457.6,140.0 L457.9,140.7 L458.2,141.3 L458.4,142.7 L458.7,143.8 L458.9,144.8 L459.1,145.6 L459.3,146.1 L459.5,146.7 L459.7,147.3 L459.9,148.2 L460.1,149.1 L460.3,150.3 L460.5,150.8 L460.7,151.8 L460.9,152.7 L461.2,153.6 L461.4,154.3 L461.6,154.7 L461.8,155.3 L462.0,156.4 L462.2,157.4 L462.4,158.6 L462.6,159.4 L462.8,159.8 L463.0,160.4 L463.2,161.6 L463.4,161.9 L463.8,163.3 L464.3,163.8 L464.7,164.9 L465.1,166.1 L465.6,166.5 L466.0,167.1 L466.5,168.3 L466.9,169.4" fill="none" stroke="#1a1a1a" stroke-width="1.1" stroke-linejoin="round"/>
<path d="M340.0,178.1 L341.2,179.1 L342.4,180.2 L343.5,180.2 L344.7,181.3 L345.9,182.1 L347.0,182.7 L348.1,181.8 L349.3,182.4 L349.9,181.4 L350.5,180.2 L351.1,180.0 L351.7,178.5 L352.7,178.2 L353.7,178.9 L354.8,178.7 L355.8,178.0 L356.8,177.6 L357.8,177.8 L358.8,177.1 L359.8,177.7 L360.9,178.3 L361.9,178.0 L362.9,178.6 L363.9,179.1 L364.9,178.6 L365.9,178.6 L366.9,177.6 L368.0,177.0 L369.0,178.4 L370.0,177.8 L371.0,177.4 L372.1,178.4 L373.1,178.7 L374.2,177.6 L375.2,177.5 L376.3,177.3 L377.3,177.2 L378.4,176.7 L379.4,177.4 L380.4,177.4 L381.5,177.5 L382.5,177.2 L383.6,176.9 L384.6,176.6 L385.7,178.0 L386.7,178.4 L387.8,178.6 L388.8,178.0 L389.9,177.9 L391.0,178.0 L392.0,178.5 L393.1,178.4 L394.1,178.9 L395.2,179.1 L396.3,179.4 L397.3,180.5 L398.4,180.8 L399.4,181.0 L400.4,181.0 L401.4,181.4 L402.4,182.1 L403.4,181.7 L404.4,181.1 L405.4,181.7 L406.4,181.8 L407.4,182.6 L408.4,181.9 L409.4,183.0 L410.4,182.1 L411.4,182.6 L412.4,182.8 L413.4,182.7 L414.4,183.7 L415.4,184.0 L416.4,183.2 L417.4,183.5 L418.4,183.9 L419.4,183.1 L420.4,182.6 L421.5,183.3 L422.5,183.8 L423.5,183.5 L424.6,183.2 L425.6,183.1 L426.6,182.6 L427.7,183.4 L428.7,183.9 L429.8,183.2 L430.8,181.9 L431.8,182.0 L432.9,182.6 L433.9,182.0 L434.9,181.4 L435.9,181.2 L436.9,182.1 L437.9,182.3 L438.9,181.9 L439.9,182.2 L440.9,182.7 L441.9,183.2 L442.9,183.3 L443.9,182.6 L444.9,182.9 L445.9,183.3 L446.9,183.3 L448.0,183.2 L449.0,182.8 L450.0,182.4 L451.0,182.9 L452.0,182.7 L453.0,182.8 L454.0,181.9 L455.0,181.2 L456.0,181.2 L457.0,181.8 L458.0,182.0 L459.0,181.5 L460.0,181.2 L461.0,182.4 L462.0,181.5 L463.0,182.6 L464.0,182.9 L465.0,182.7 L466.0,183.4 L467.0,183.2 L468.0,182.0 L469.0,183.0 L470.0,182.6 L471.0,183.4 L472.0,183.6 L473.0,182.5 L474.0,181.8 L475.0,181.4 L476.0,182.6 L477.0,183.3 L478.0,182.6 L479.0,182.1 L480.0,182.3 L481.0,183.2 L482.0,183.5 L483.0,183.8 L484.0,184.1 L485.0,183.9 L486.0,183.9 L487.0,182.4 L488.0,181.6 L489.0,182.7 L490.0,182.8 L491.0,182.4 L492.0,181.7 L493.0,181.8 L494.0,181.8 L495.0,182.0 L496.0,182.1 L497.0,181.6 L498.0,181.1 L499.0,181.1 L500.0,180.9 L501.0,180.8 L502.0,181.2 L503.0,180.9" fill="none" stroke="#555" stroke-width="1.1" stroke-linejoin="round"/>
<path d="M340.7,164.0 L341.8,165.2 L342.9,166.9 L343.5,168.4 L344.2,169.7 L344.9,169.8 L345.5,171.6 L346.9,169.8 L348.2,168.1 L349.3,167.4 L350.4,167.9 L351.4,167.4 L352.5,167.4 L352.8,169.1 L353.1,170.8 L353.4,172.1 L353.7,171.9 L354.0,172.3 L354.3,173.4 L355.3,174.3 L356.4,175.6 L357.4,176.3 L358.5,177.1 L359.5,177.0 L360.3,175.8 L361.2,174.0 L362.0,172.6 L362.8,173.2 L363.5,174.7 L364.2,176.1 L365.0,177.2 L366.0,175.9 L367.0,174.8 L368.0,173.4 L369.0,175.2 L370.0,176.0 L371.0,177.2 L372.0,176.3 L373.0,174.2 L374.0,172.3 L375.0,173.2 L376.0,175.4 L377.0,176.8 L377.8,175.2 L378.5,174.7 L379.2,173.0 L380.0,172.7 L380.8,172.5 L381.5,174.3 L382.2,176.1 L383.0,176.4 L384.2,176.0 L385.5,175.0 L386.7,174.3 L387.8,173.6 L389.0,173.1 L389.5,173.7 L390.0,174.9 L390.5,175.7 L391.0,177.4 L391.9,178.5 L392.8,179.2 L393.7,181.5 L394.2,179.9 L394.7,179.1 L395.2,179.0 L395.7,178.2 L396.2,177.7 L396.7,176.3 L397.2,175.7 L398.4,173.3 L399.5,172.9 L400.7,171.4 L401.7,170.2 L402.6,170.0 L403.6,169.3 L404.6,168.7 L405.6,168.4 L406.7,168.1 L407.7,169.3 L408.2,168.2 L408.7,166.4 L409.1,165.5 L409.6,163.6 L410.1,162.5 L410.4,163.9 L410.6,166.1 L410.9,167.4 L411.1,167.9 L411.4,169.1 L411.6,169.2 L411.9,170.6 L412.1,172.4 L412.4,172.1 L412.7,172.0 L412.9,171.6 L413.2,169.6 L413.4,169.0 L413.7,168.6 L413.9,166.2 L414.2,165.1 L414.4,166.3 L414.6,167.7 L414.9,167.9 L415.1,169.4 L415.3,170.5 L415.5,171.9 L415.8,172.8 L416.0,173.9 L416.2,174.5 L416.4,175.1 L416.7,175.7 L416.9,176.4 L417.1,177.3 L417.4,176.3 L417.8,175.1 L418.1,173.6 L418.4,172.8 L418.7,173.0 L419.1,171.3 L419.4,171.3 L419.8,172.5 L420.3,172.7 L420.7,172.9 L421.1,174.7 L421.6,176.3 L422.0,176.2 L423.0,176.0 L424.0,175.7 L425.0,175.1 L426.0,173.5 L427.0,174.0 L428.0,175.6 L429.0,176.6 L430.0,177.5 L431.0,176.5 L432.0,177.0 L433.0,176.9 L434.0,176.1 L435.0,176.2 L436.0,175.1 L437.0,175.4 L438.0,175.8 L439.0,177.0 L440.0,177.7 L441.0,177.0 L442.0,177.7 L443.0,176.8 L444.0,177.5 L445.0,177.8 L446.0,177.4 L447.0,175.9 L448.0,175.6 L449.0,175.2 L450.0,175.5 L450.9,174.9 L451.8,174.7 L452.7,174.7 L453.6,176.3 L454.5,176.6 L455.5,177.4 L456.4,177.9 L457.3,177.5 L458.2,177.9 L459.1,177.3 L460.0,177.4 L460.9,176.5 L461.8,176.5 L462.7,175.8 L463.6,176.1 L464.5,177.2 L465.5,177.8 L466.4,177.5 L467.3,175.9 L468.2,177.0 L469.1,176.6 L470.0,176.6 L470.9,176.3 L471.8,177.0 L472.7,176.5 L473.6,175.9 L474.5,176.4 L475.5,176.2 L476.4,176.3 L477.3,176.4 L478.2,177.5 L479.1,178.1 L480.0,177.6 L480.9,178.0 L481.8,176.8 L482.7,177.9 L483.6,177.0 L484.5,177.0 L485.5,176.6 L486.4,177.3 L487.3,176.7 L488.2,175.8 L489.1,176.6 L490.0,176.4 L490.9,175.7 L491.9,176.3 L492.8,176.9 L493.7,177.0 L494.6,177.1 L495.6,176.2 L496.5,175.6 L497.4,174.9 L498.4,176.2 L499.3,175.6 L500.2,175.5 L501.1,176.4 L502.1,175.4 L503.0,176.6" fill="none" stroke="#a8262a" stroke-width="1.2" stroke-linejoin="round"/>
<text x="375.2" y="89.9" font-size="12" fill="#333" text-anchor="start" font-weight="normal"></text>
<line x1="375.2" y1="89.9" x2="375.2" y2="151.7" stroke="#1a1a1a" stroke-width="2"/>
<text x="370.2" y="153.2" font-size="11.7" fill="#333" text-anchor="start" font-weight="normal" transform="rotate(-90 370.2 153.2)">5% ΔFI ratio</text>
<text x="423.2" y="110.9" font-size="10.6" fill="#444" text-anchor="start" font-weight="normal">wash</text>
<text x="397.3" y="161.1" font-size="11" fill="#a8262a" text-anchor="start" font-weight="normal">+<tspan dx='1.2'>ZM241385</tspan></text>
<text x="465.0" y="199.8" font-size="11.5" fill="#444" text-anchor="start" font-weight="normal">+<tspan dx='1'>H89</tspan></text>
<line x1="354.1" y1="194.6" x2="424.5" y2="194.6" stroke="#1a1a1a" stroke-width="2"/>
<text x="376.4" y="206.4" font-size="11.4" fill="#333" text-anchor="start" font-weight="normal">5<tspan dx='1.5'>min</tspan></text>
<text x="522.6" y="28.3" font-size="11.5" fill="#94406f" text-anchor="start" font-weight="normal">PKA activity</text>
<line x1="574.5" y1="48.7" x2="574.5" y2="146.3" stroke="#555" stroke-width="1.2"/>
<line x1="569.6" y1="48.7" x2="574.5" y2="48.7" stroke="#555" stroke-width="1.2"/>
<text x="567.2" y="53.0" font-size="12" fill="#333" text-anchor="end" font-weight="normal">0.2</text>
<line x1="569.6" y1="90.5" x2="574.5" y2="90.5" stroke="#555" stroke-width="1.2"/>
<text x="567.2" y="94.8" font-size="12" fill="#333" text-anchor="end" font-weight="normal">0.1</text>
<line x1="569.6" y1="132.3" x2="574.5" y2="132.3" stroke="#555" stroke-width="1.2"/>
<text x="567.2" y="136.6" font-size="12" fill="#333" text-anchor="end" font-weight="normal">0</text>
<line x1="570.5" y1="69.6" x2="574.5" y2="69.6" stroke="#555" stroke-width="1.2"/>
<line x1="570.5" y1="111.4" x2="574.5" y2="111.4" stroke="#555" stroke-width="1.2"/>
<text x="548.3" y="51.6" font-size="11.6" fill="#333" text-anchor="end" font-weight="normal" transform="rotate(-90 548.3 51.6)">ΔFI ratio (AKAR4)</text>
<line x1="576.6" y1="132.3" x2="680.0" y2="132.3" stroke="#777" stroke-width="0.9" stroke-dasharray="2.2,2.6"/>
<line x1="590.9" y1="44.5" x2="670.0" y2="44.5" stroke="#555" stroke-width="1"/>
<line x1="590.9" y1="57.0" x2="642.5" y2="57.0" stroke="#777" stroke-width="1"/>
<line x1="590.9" y1="69.2" x2="616.7" y2="69.2" stroke="#555" stroke-width="1"/>
<text x="630.7" y="41.6" font-size="8.6" fill="#222" text-anchor="middle" font-weight="normal">p=0.001</text>
<text x="617.3" y="54.3" font-size="8.6" fill="#222" text-anchor="middle" font-weight="normal">p=0.11</text>
<text x="607.9" y="66.4" font-size="8.6" fill="#222" text-anchor="middle" font-weight="normal">p&lt;0.001</text>
<line x1="590.8" y1="73.2" x2="590.8" y2="97.5" stroke="#666" stroke-width="0.9"/><line x1="590.8" y1="118.6" x2="590.8" y2="126.4" stroke="#666" stroke-width="0.9"/><line x1="588.0" y1="73.2" x2="593.5" y2="73.2" stroke="#666" stroke-width="0.9"/><line x1="588.0" y1="126.4" x2="593.5" y2="126.4" stroke="#666" stroke-width="0.9"/><rect x="581.9" y="97.5" width="17.8" height="21.1" fill="#e9e9e9" stroke="#666" stroke-width="0.9"/><line x1="581.9" y1="108.8" x2="599.7" y2="108.8" stroke="#666" stroke-width="0.9"/><rect x="589.8" y="105.4" width="2" height="2" fill="none" stroke="#666" stroke-width="0.6"/>
<line x1="617.2" y1="136.5" x2="617.2" y2="136.5" stroke="#c47a7a" stroke-width="0.9"/><line x1="617.2" y1="140.5" x2="617.2" y2="144.5" stroke="#c47a7a" stroke-width="0.9"/><line x1="614.2" y1="136.5" x2="620.2" y2="136.5" stroke="#c47a7a" stroke-width="0.9"/><line x1="614.2" y1="144.5" x2="620.2" y2="144.5" stroke="#c47a7a" stroke-width="0.9"/><rect x="608.2" y="136.5" width="18.0" height="4.0" fill="#f2cccc" stroke="#c47a7a" stroke-width="0.9"/><line x1="608.2" y1="138.5" x2="626.2" y2="138.5" stroke="#c47a7a" stroke-width="0.9"/><rect x="616.2" y="137.3" width="2" height="2" fill="none" stroke="#c47a7a" stroke-width="0.6"/>
<line x1="643.5" y1="69.4" x2="643.5" y2="83.5" stroke="#666" stroke-width="0.9"/><line x1="643.5" y1="100.2" x2="643.5" y2="111.1" stroke="#666" stroke-width="0.9"/><line x1="640.8" y1="69.4" x2="646.2" y2="69.4" stroke="#666" stroke-width="0.9"/><line x1="640.8" y1="111.1" x2="646.2" y2="111.1" stroke="#666" stroke-width="0.9"/><rect x="635.3" y="83.5" width="16.4" height="16.7" fill="#e9e9e9" stroke="#666" stroke-width="0.9"/><line x1="635.3" y1="90.5" x2="651.7" y2="90.5" stroke="#666" stroke-width="0.9"/><rect x="642.5" y="89.5" width="2" height="2" fill="none" stroke="#666" stroke-width="0.6"/>
<line x1="669.5" y1="125.2" x2="669.5" y2="128.3" stroke="#666" stroke-width="0.9"/><line x1="669.5" y1="134.1" x2="669.5" y2="138.6" stroke="#666" stroke-width="0.9"/><line x1="666.7" y1="125.2" x2="672.3" y2="125.2" stroke="#666" stroke-width="0.9"/><line x1="666.7" y1="138.6" x2="672.3" y2="138.6" stroke="#666" stroke-width="0.9"/><rect x="660.1" y="128.3" width="18.8" height="5.8" fill="#e9e9e9" stroke="#666" stroke-width="0.9"/><line x1="660.1" y1="131.5" x2="678.9" y2="131.5" stroke="#666" stroke-width="0.9"/><rect x="668.5" y="130.2" width="2" height="2" fill="none" stroke="#666" stroke-width="0.6"/>
<text x="660.3" y="70.8" font-size="9" fill="#777" text-anchor="end" font-weight="normal" transform="rotate(-90 660.3 70.8)">(after wash)</text>
<text x="590.4" y="155.1" font-size="8.5" fill="#333" text-anchor="middle" font-weight="normal">(63/8)</text>
<text x="616.9" y="155.1" font-size="8.5" fill="#333" text-anchor="middle" font-weight="normal">(14/3)</text>
<text x="643.6" y="155.1" font-size="8.5" fill="#333" text-anchor="middle" font-weight="normal">(14/3)</text>
<text x="669.5" y="155.1" font-size="8.5" fill="#333" text-anchor="middle" font-weight="normal">(33/3)</text>
<rect x="580.6" y="167.0" width="100.0" height="13.6" fill="#fafafa"/>
<rect x="580.6" y="180.6" width="100.0" height="14.4" fill="#f1f1f1"/>
<rect x="580.6" y="195.0" width="100.0" height="13.6" fill="#fafafa"/>
<line x1="579.0" y1="158.5" x2="681.7" y2="158.5" stroke="#333" stroke-width="1.2"/>
<line x1="590.8" y1="158.5" x2="590.8" y2="161.8" stroke="#333" stroke-width="1.2"/>
<line x1="617.2" y1="158.5" x2="617.2" y2="161.8" stroke="#333" stroke-width="1.2"/>
<line x1="643.5" y1="158.5" x2="643.5" y2="161.8" stroke="#333" stroke-width="1.2"/>
<line x1="669.5" y1="158.5" x2="669.5" y2="161.8" stroke="#333" stroke-width="1.2"/>
<text x="578.3" y="176.8" font-size="10" fill="#333" text-anchor="end" font-weight="normal">ADO</text>
<text x="578.3" y="191.1" font-size="10" fill="#9a2226" text-anchor="end" font-weight="normal">ZM241385</text>
<text x="578.3" y="205.6" font-size="10" fill="#333" text-anchor="end" font-weight="normal">H89</text>
<line x1="587.8" y1="173.7" x2="593.4" y2="173.7" stroke="#333" stroke-width="1.1"/>
<line x1="590.6" y1="170.9" x2="590.6" y2="176.5" stroke="#333" stroke-width="1.1"/>
<line x1="614.2" y1="173.7" x2="619.8" y2="173.7" stroke="#333" stroke-width="1.1"/>
<line x1="617.0" y1="170.9" x2="617.0" y2="176.5" stroke="#333" stroke-width="1.1"/>
<line x1="640.5" y1="173.7" x2="646.1" y2="173.7" stroke="#333" stroke-width="1.1"/>
<line x1="643.3" y1="170.9" x2="643.3" y2="176.5" stroke="#333" stroke-width="1.1"/>
<line x1="666.8" y1="173.7" x2="672.4" y2="173.7" stroke="#333" stroke-width="1.1"/>
<line x1="669.6" y1="170.9" x2="669.6" y2="176.5" stroke="#333" stroke-width="1.1"/>
<line x1="587.5" y1="187.7" x2="593.7" y2="187.7" stroke="#777" stroke-width="1.0"/>
<line x1="614.2" y1="187.7" x2="619.8" y2="187.7" stroke="#333" stroke-width="1.1"/>
<line x1="617.0" y1="184.9" x2="617.0" y2="190.5" stroke="#333" stroke-width="1.1"/>
<line x1="640.2" y1="187.7" x2="646.4" y2="187.7" stroke="#777" stroke-width="1.0"/>
<line x1="666.5" y1="187.7" x2="672.7" y2="187.7" stroke="#777" stroke-width="1.0"/>
<line x1="587.5" y1="202.2" x2="593.7" y2="202.2" stroke="#777" stroke-width="1.0"/>
<line x1="613.9" y1="202.2" x2="620.1" y2="202.2" stroke="#777" stroke-width="1.0"/>
<line x1="640.2" y1="202.2" x2="646.4" y2="202.2" stroke="#777" stroke-width="1.0"/>
<line x1="666.8" y1="202.2" x2="672.4" y2="202.2" stroke="#333" stroke-width="1.1"/>
<line x1="669.6" y1="199.4" x2="669.6" y2="205.0" stroke="#333" stroke-width="1.1"/>
<text x="0.4" y="243.8" font-size="19.5" fill="#1a1a1a" text-anchor="start" font-weight="bold">d</text>
<text x="60.6" y="258.0" font-size="12" fill="#333" text-anchor="start" font-weight="normal">ADO</text>
<rect x="51.8" y="261.1" width="39.6" height="145.6" fill="#ececec"/>
<line x1="20.3" y1="395.9" x2="170.0" y2="395.9" stroke="#999" stroke-width="0.9" stroke-dasharray="2.1,2.5"/>
<path d="M54.0,396.0 L55.0,330.0 L57.0,300.0 L60.7,287.7 L66.3,282.7 L71.9,284.9 L80.4,282.0 L88.8,287.7 L93.1,290.5 L97.0,292.0 L101.0,300.0 L106.0,320.0 L112.0,335.0 L120.0,340.0 L127.0,350.0 L131.0,375.0 L134.0,392.0 L136.0,400.0 L131.0,398.0 L127.0,385.0 L120.0,372.0 L110.0,365.0 L100.0,360.0 L95.0,345.0 L92.0,320.0 L88.8,308.8 L80.4,305.3 L74.0,306.7 L69.1,303.2 L60.7,305.3 L59.0,315.0 L57.0,340.0 L56.0,396.0 Z" fill="#f2f3ec" stroke="#d6d9c6" stroke-width="0.6"/>
<path d="M23.5,396.9 L24.3,396.7 L25.1,396.6 L26.0,397.0 L26.8,397.0 L27.6,397.1 L28.4,397.0 L29.3,396.8 L30.1,397.0 L30.9,396.9 L31.8,397.0 L32.6,397.0 L33.4,397.1 L34.2,396.8 L35.0,396.5 L35.9,396.3 L36.7,396.6 L37.5,396.3 L38.4,396.5 L39.2,396.6 L40.0,396.2 L40.8,396.5 L41.7,396.1 L42.5,396.5 L43.3,396.7 L44.2,396.3 L45.0,396.4 L45.8,396.5 L46.7,396.1 L47.5,396.2 L48.3,395.9 L49.2,396.3 L50.0,396.3 L50.8,396.5 L51.7,395.9 L52.5,395.8 L52.5,395.2 L52.5,394.5 L52.6,393.4 L52.6,393.0 L52.6,392.3 L52.6,391.2 L52.6,390.1 L52.7,389.6 L52.7,388.7 L52.7,388.1 L52.7,387.2 L52.7,386.3 L52.8,385.2 L52.8,384.3 L52.8,383.7 L52.8,383.2 L52.8,382.3 L52.9,381.7 L52.9,380.9 L52.9,380.3 L52.9,379.4 L52.9,378.4 L53.0,377.3 L53.0,376.3 L53.0,375.4 L53.0,375.1 L53.0,374.6 L53.1,373.8 L53.1,372.6 L53.1,372.0 L53.1,370.9 L53.1,370.5 L53.2,369.7 L53.2,369.0 L53.2,368.1 L53.2,367.2 L53.2,366.6 L53.2,366.0 L53.3,364.7 L53.3,363.9 L53.3,363.2 L53.3,362.5 L53.3,361.5 L53.4,360.7 L53.4,360.2 L53.4,359.1 L53.4,358.1 L53.4,357.5 L53.5,356.5 L53.5,356.1 L53.5,355.0 L53.5,354.6 L53.5,353.5 L53.6,353.0 L53.6,352.2 L53.6,351.4 L53.6,350.2 L53.6,349.2 L53.7,348.2 L53.7,347.4 L53.7,346.9 L53.7,345.9 L53.7,345.1 L53.8,344.5 L53.8,343.5 L53.8,342.8 L53.8,341.9 L53.8,341.4 L53.9,340.3 L53.9,340.0 L53.9,339.2 L53.9,338.4 L53.9,337.6 L54.0,336.7 L54.0,336.2 L54.0,335.5 L54.1,334.6 L54.2,333.3 L54.3,332.6 L54.3,332.1 L54.4,331.2 L54.5,330.3 L54.6,329.5 L54.7,328.4 L54.8,327.8 L54.9,327.2 L54.9,325.9 L55.0,325.2 L55.1,324.5 L55.2,323.6 L55.3,323.0 L55.4,322.4 L55.5,321.7 L55.6,320.6 L55.6,319.5 L55.7,319.0 L55.8,318.2 L55.9,317.6 L56.0,316.9 L56.1,315.7 L56.2,314.9 L56.2,313.9 L56.3,313.4 L56.4,312.6 L56.5,311.5 L56.7,310.7 L57.0,310.0 L57.2,309.0 L57.4,308.0 L57.7,307.3 L57.9,306.3 L58.1,305.7 L58.4,305.3 L58.6,304.6 L58.8,303.3 L59.1,302.8 L59.3,302.0 L59.8,301.2 L60.3,299.8 L60.9,299.2 L61.4,298.1 L61.9,297.5 L62.5,296.4 L63.0,295.5 L63.5,294.4 L64.3,294.3 L65.2,293.4 L66.0,293.2 L66.9,292.6 L67.7,291.7 L68.5,292.5 L69.3,293.1 L70.1,293.4 L71.0,294.4 L71.8,294.8 L72.6,295.1 L73.4,296.1 L73.9,297.2 L74.3,298.0 L74.8,298.8 L75.5,298.0 L76.2,297.3 L76.9,296.6 L77.6,295.6 L78.3,294.8 L79.1,295.6 L79.9,296.0 L80.8,296.6 L81.6,297.4 L82.4,298.4 L83.2,299.3 L84.0,299.7 L84.9,299.7 L85.7,300.1 L86.6,300.0 L87.4,300.2 L88.3,300.2 L89.2,300.8 L90.1,301.3 L91.0,301.4 L92.0,301.1 L93.1,300.5 L93.7,301.5 L94.3,301.9 L94.8,302.7 L95.4,303.5 L96.0,304.6 L96.6,305.2 L96.9,305.9 L97.2,306.7 L97.5,308.0 L97.8,308.8 L98.1,310.0 L98.4,310.7 L98.7,311.8 L98.9,312.3 L99.0,313.4 L99.2,314.5 L99.4,315.3 L99.6,316.0 L99.8,316.9 L99.9,317.8 L100.1,318.6 L100.3,319.0 L100.5,320.0 L100.6,320.8 L100.8,321.4 L101.0,321.9 L101.2,323.1 L101.3,323.8 L101.5,324.6 L101.7,325.6 L101.8,326.3 L102.0,326.8 L102.2,327.8 L102.4,328.6 L102.5,329.2 L102.7,330.2 L102.9,331.3 L103.1,331.8 L103.2,332.8 L103.4,333.7 L103.6,334.4 L103.9,335.0 L104.2,336.1 L104.6,336.8 L104.9,337.6 L105.2,338.9 L105.7,339.5 L106.2,340.1 L106.7,341.4 L107.2,342.5 L107.7,343.0 L108.2,343.8 L108.8,344.7 L109.3,345.7 L109.8,346.1 L110.3,347.1 L110.8,347.8 L111.3,349.0 L111.8,349.7 L112.3,350.8 L113.1,351.3 L113.9,351.9 L114.7,352.2 L115.5,352.7 L116.3,353.3 L117.1,354.0 L118.0,354.6 L118.8,355.3 L119.6,355.8 L120.4,356.7 L121.2,357.7 L122.0,358.4 L122.8,359.0 L123.1,360.0 L123.5,360.8 L123.8,361.5 L124.1,362.2 L124.5,362.7 L124.8,363.9 L125.2,365.0 L125.5,365.8 L125.8,366.6 L126.2,367.5 L126.5,368.5 L126.8,369.4 L127.2,370.1 L127.5,370.4 L127.6,371.6 L127.8,372.3 L127.9,373.0 L128.0,373.8 L128.1,374.5 L128.3,375.0 L128.4,376.2 L128.5,377.1 L128.7,377.7 L128.8,378.9 L128.9,379.9 L129.1,380.8 L129.2,381.5 L129.3,382.1 L129.4,382.9 L129.6,383.6 L129.7,384.8 L129.8,385.8 L130.0,386.7 L130.1,387.3 L130.2,388.0 L130.4,388.9 L130.5,389.4 L130.6,390.1 L130.7,391.4 L130.9,391.9 L131.0,392.6 L131.9,393.2 L132.7,393.5 L133.6,394.2 L134.4,394.6 L135.3,395.5 L136.1,395.7 L137.0,396.6 L137.8,396.9 L138.7,397.7 L139.5,398.4 L140.4,399.1 L141.2,398.7 L142.1,399.2 L142.9,398.9 L143.7,398.9 L144.5,398.8 L145.3,399.1 L146.2,399.0 L147.0,399.4 L147.8,399.9 L148.7,400.1 L149.5,400.2 L150.3,399.9 L151.1,400.4 L152.0,400.3 L152.8,400.7 L153.6,400.4 L154.4,400.5 L155.2,401.0 L156.1,401.2 L156.9,400.9 L157.7,400.8 L158.5,400.8 L159.3,400.5 L160.1,400.3 L160.9,400.1 L161.7,400.2 L162.6,400.2 L163.4,400.1 L164.2,400.1 L165.0,399.9 L165.8,399.8 L166.6,400.0 L167.4,399.6" fill="none" stroke="#e39245" stroke-width="1.2" stroke-linejoin="round"/>
<path d="M23.5,396.1 L24.3,395.7 L25.1,395.6 L26.0,395.5 L26.8,395.9 L27.6,395.9 L28.4,396.1 L29.2,395.6 L30.1,395.6 L30.9,395.3 L31.7,395.3 L32.5,395.4 L33.4,395.1 L34.2,395.1 L35.0,395.4 L35.8,395.5 L36.7,395.4 L37.5,395.6 L38.3,395.9 L39.2,395.5 L40.0,395.8 L40.8,396.0 L41.7,395.8 L42.5,395.6 L43.3,396.1 L44.2,395.9 L45.0,395.7 L45.8,395.6 L46.6,396.0 L47.4,396.1 L48.2,396.3 L49.0,396.3 L49.9,396.2 L50.7,396.4 L51.5,396.1 L52.3,396.1 L53.1,396.3 L53.1,395.4 L53.1,394.8 L53.2,393.8 L53.2,393.1 L53.2,391.8 L53.2,390.9 L53.2,390.1 L53.3,389.1 L53.3,388.4 L53.3,387.5 L53.3,386.8 L53.4,386.3 L53.4,385.4 L53.4,384.6 L53.4,383.7 L53.4,382.9 L53.5,382.5 L53.5,381.7 L53.5,380.9 L53.5,379.8 L53.5,379.2 L53.6,378.1 L53.6,377.4 L53.6,377.0 L53.6,376.2 L53.6,375.3 L53.7,374.5 L53.7,373.9 L53.7,373.1 L53.7,371.9 L53.8,370.8 L53.8,370.0 L53.8,369.2 L53.8,368.4 L53.8,368.0 L53.9,367.4 L53.9,366.3 L53.9,365.6 L53.9,364.7 L53.9,364.2 L54.0,363.2 L54.0,362.2 L54.0,361.3 L54.0,360.6 L54.0,359.7 L54.1,359.0 L54.1,358.5 L54.1,357.5 L54.1,356.5 L54.2,356.1 L54.2,355.2 L54.2,354.0 L54.2,353.0 L54.2,352.2 L54.3,351.7 L54.3,351.2 L54.3,350.3 L54.3,349.1 L54.3,348.4 L54.4,348.1 L54.4,347.2 L54.4,346.6 L54.4,345.9 L54.4,344.5 L54.5,343.9 L54.5,343.2 L54.5,342.3 L54.5,341.3 L54.6,340.7 L54.6,339.6 L54.6,338.8 L54.6,338.1 L54.6,337.7 L54.7,337.0 L54.7,335.8 L54.7,335.0 L54.8,334.0 L54.8,333.6 L54.9,332.9 L55.0,331.8 L55.1,331.1 L55.1,330.3 L55.2,329.1 L55.3,328.6 L55.4,327.8 L55.4,327.1 L55.5,326.2 L55.6,325.0 L55.7,324.2 L55.7,323.2 L55.8,322.9 L55.9,322.3 L56.0,321.6 L56.0,320.4 L56.1,319.3 L56.2,318.9 L56.2,318.3 L56.3,317.0 L56.4,316.3 L56.5,315.2 L56.5,314.7 L56.6,314.1 L56.7,312.9 L56.8,312.2 L56.8,311.4 L56.9,310.5 L57.0,310.0 L57.1,309.1 L57.1,308.0 L57.2,307.3 L57.4,306.7 L57.7,305.5 L57.9,304.6 L58.1,304.2 L58.4,303.3 L58.6,302.3 L58.8,301.4 L59.1,300.2 L59.3,299.3 L60.0,298.5 L60.7,297.8 L61.4,296.7 L62.1,295.8 L62.9,295.2 L63.8,295.1 L64.6,294.6 L65.5,294.6 L66.3,294.3 L67.1,293.9 L67.9,293.7 L68.7,294.0 L69.5,293.8 L70.3,293.6 L71.1,294.1 L71.9,294.1 L72.7,293.9 L73.5,294.0 L74.3,294.0 L75.2,293.5 L76.0,293.2 L76.8,293.2 L77.6,293.1 L78.5,292.3 L79.3,291.7 L80.2,290.9 L81.1,290.2 L81.8,290.7 L82.5,291.6 L83.2,292.4 L84.2,292.1 L85.3,291.1 L86.3,292.0 L87.4,293.1 L88.5,293.5 L89.5,293.8 L89.7,294.5 L89.9,295.8 L90.1,296.4 L90.4,297.5 L90.6,298.2 L90.8,298.6 L91.0,299.8 L91.1,300.8 L91.2,301.7 L91.3,302.6 L91.4,303.4 L91.5,303.7 L91.6,304.5 L91.8,305.1 L91.9,306.0 L92.0,306.5 L92.1,307.5 L92.2,308.8 L92.3,309.3 L92.4,310.4 L92.5,311.1 L92.6,311.8 L92.6,312.9 L92.7,313.9 L92.8,314.5 L92.9,315.4 L93.0,315.8 L93.0,316.5 L93.1,317.7 L93.2,318.5 L93.3,319.2 L93.4,320.2 L93.5,320.6 L93.5,321.5 L93.6,322.4 L93.7,323.4 L93.8,323.9 L93.9,325.1 L93.9,325.5 L94.0,326.1 L94.1,327.2 L94.2,328.1 L94.3,328.7 L94.3,329.3 L94.4,330.6 L94.5,331.2 L94.6,332.1 L94.7,333.0 L94.9,333.7 L95.0,334.6 L95.1,335.4 L95.2,336.5 L95.3,336.9 L95.5,337.9 L95.6,338.5 L95.7,339.3 L95.8,340.3 L95.9,340.9 L96.1,341.7 L96.2,342.8 L96.3,343.2 L96.9,344.2 L97.5,345.4 L98.1,346.5 L98.7,346.8 L99.3,347.4 L99.9,348.2 L100.5,349.5 L101.3,350.0 L102.1,350.5 L102.9,350.5 L103.8,350.6 L104.6,351.3 L105.4,351.7 L106.2,352.0 L107.0,352.6 L107.8,352.9 L108.7,352.7 L109.5,353.4 L110.3,353.6 L111.1,354.1 L111.9,355.2 L112.8,355.6 L113.6,356.2 L114.5,356.9 L115.3,358.0 L116.2,358.8 L117.0,359.8 L117.8,360.8 L118.6,361.4 L119.5,362.4 L120.3,363.0 L121.1,363.9 L121.9,365.1 L122.7,366.0 L123.6,366.4 L124.4,367.2 L125.2,367.9 L125.4,368.5 L125.6,369.7 L125.9,370.6 L126.1,371.2 L126.3,372.2 L126.5,373.0 L126.7,373.7 L126.9,374.2 L127.2,374.9 L127.4,376.2 L127.6,377.3 L127.8,378.0 L128.0,378.9 L128.3,379.6 L128.5,380.1 L128.7,380.7 L128.9,381.5 L129.0,382.7 L129.2,383.7 L129.4,384.6 L129.6,385.5 L129.8,385.9 L129.9,386.5 L130.1,387.1 L130.3,388.3 L130.4,389.3 L130.6,389.9 L130.8,390.8 L131.0,391.3 L131.2,392.5 L131.3,393.5 L131.5,394.4 L132.3,394.8 L133.2,395.3 L134.0,395.2 L134.8,395.8 L135.6,396.1 L136.4,396.9 L137.3,397.4 L138.1,397.9 L138.9,398.0 L139.8,397.7 L140.6,398.0 L141.4,397.7 L142.2,398.2 L143.1,398.4 L143.9,398.1 L144.7,398.5 L145.6,398.4 L146.4,398.3 L147.2,398.7 L148.1,398.5 L148.9,398.3 L149.7,398.4 L150.5,398.6 L151.4,399.1 L152.2,399.5 L153.0,399.2 L153.8,399.4 L154.6,399.4 L155.4,399.8 L156.2,399.8 L157.0,400.1 L157.8,399.7 L158.6,400.2 L159.4,399.9 L160.2,400.4 L161.0,400.2 L161.8,400.0 L162.6,400.2 L163.4,400.6 L164.2,400.5 L165.0,400.7 L165.8,400.8 L166.6,400.8 L167.4,401.0" fill="none" stroke="#25368a" stroke-width="1.2" stroke-linejoin="round"/>
<path d="M23.5,395.1 L24.3,395.8 L25.1,395.0 L26.0,395.2 L26.8,395.7 L27.6,396.1 L28.4,395.6 L29.2,395.4 L30.1,394.2 L30.9,394.4 L31.7,394.4 L32.5,395.3 L33.4,395.0 L34.2,395.3 L35.0,394.7 L35.8,393.9 L36.7,394.8 L37.5,395.2 L38.3,394.5 L39.2,393.6 L40.0,393.9 L40.8,394.0 L41.7,394.6 L42.5,394.5 L43.3,394.3 L44.2,394.3 L45.0,393.9 L45.8,393.1 L46.6,392.7 L47.4,394.4 L48.2,395.0 L49.0,394.2 L49.8,395.1 L50.6,394.8 L51.4,393.8 L52.2,394.9 L53.0,394.9 L53.8,395.4 L54.6,395.1 L55.4,393.7 L56.2,394.0 L57.0,394.4 L57.9,395.3 L58.8,394.7 L59.6,395.1 L60.5,395.8 L61.4,395.2 L62.3,396.5 L63.2,396.1 L64.0,394.0 L64.9,393.7 L65.8,392.8 L66.6,391.6 L67.5,391.4 L68.4,393.3 L69.3,393.9 L70.2,393.7 L71.1,393.3 L71.9,393.4 L72.8,393.5 L73.6,392.7 L74.5,390.7 L75.3,391.5 L76.2,391.0 L77.0,389.5 L77.8,388.7 L78.7,388.0 L79.5,388.7 L80.3,387.8 L81.2,388.5 L82.0,387.3 L82.8,387.8 L83.6,388.0 L84.4,387.3 L85.2,387.0 L86.0,388.6 L86.8,389.7 L87.6,388.6 L88.4,389.3 L89.2,390.2 L90.0,390.6 L90.8,390.6 L91.7,389.4 L92.5,389.5 L93.3,389.1 L94.2,389.7 L95.0,389.5 L95.8,389.6 L96.7,389.7 L97.5,388.7 L98.3,388.8 L99.2,387.6 L100.0,387.2 L100.9,388.5 L101.7,388.2 L102.6,388.6 L103.5,388.7 L104.3,388.1 L105.2,388.5 L106.0,389.5 L106.8,388.8 L107.6,388.6 L108.4,388.2 L109.3,388.1 L110.1,389.4 L110.9,389.8 L111.7,390.6 L112.5,390.5 L113.3,391.1 L114.1,389.9 L114.9,389.4 L115.8,389.2 L116.6,389.5 L117.4,390.9 L118.2,390.2 L119.0,390.3 L119.8,389.7 L120.6,389.3 L121.4,390.3 L122.2,390.9 L123.1,391.1 L123.9,392.1 L124.7,392.5 L125.5,392.9 L126.3,392.5 L127.2,392.0 L128.1,391.7 L129.0,393.1 L129.8,392.7 L130.7,392.5 L131.6,394.0 L132.5,393.8 L133.4,394.9 L134.2,394.4 L135.0,394.7 L135.8,394.0 L136.6,394.4 L137.4,394.5 L138.2,394.4 L139.0,394.2 L139.8,394.9 L140.6,395.6 L141.4,394.9 L142.2,394.3 L143.0,394.4 L143.8,395.4 L144.6,395.0 L145.4,395.6 L146.2,394.8 L147.0,395.6 L147.8,394.9 L148.7,394.8 L149.5,395.7 L150.3,395.7 L151.1,396.1 L151.9,395.5 L152.7,396.0 L153.5,395.6 L154.3,395.7 L155.1,395.7 L155.9,396.7 L156.7,396.9 L157.5,396.6 L158.3,397.0 L159.1,396.8 L159.9,396.9 L160.7,396.6 L161.5,396.6 L162.3,395.8 L163.1,396.9 L163.9,396.9" fill="none" stroke="#a8262a" stroke-width="1.2" stroke-linejoin="round"/>
<text x="9.0" y="276.2" font-size="11.9" fill="#2b82b3" text-anchor="start" font-weight="normal">[cAMP]</text>
<text x="108.0" y="315.8" font-size="11" fill="#e39245" text-anchor="start" font-weight="normal">+SCH</text>
<text x="108.0" y="328.1" font-size="11" fill="#e39245" text-anchor="start" font-weight="normal">442416</text>
<line x1="41.8" y1="324.1" x2="41.8" y2="367.0" stroke="#1a1a1a" stroke-width="2"/>
<text x="37.3" y="380.1" font-size="11.5" fill="#333" text-anchor="start" font-weight="normal" transform="rotate(-90 37.3 380.1)">10% ΔFI ratio</text>
<text x="80.6" y="407.8" font-size="11" fill="#a8262a" text-anchor="start" font-weight="normal">+<tspan dx='1.5'>PSB</tspan><tspan dx='1.5'>603</tspan></text>
<line x1="25.2" y1="413.0" x2="77.8" y2="413.0" stroke="#1a1a1a" stroke-width="2"/>
<text x="38.6" y="425.0" font-size="11.4" fill="#333" text-anchor="start" font-weight="normal">5<tspan dx='1.5'>min</tspan></text>
<text x="169.2" y="243.7" font-size="20" fill="#1a1a1a" text-anchor="start" font-weight="bold">e</text>
<rect x="222.2" y="261.8" width="44.7" height="144.8" fill="#ececec"/>
<line x1="187.0" y1="396.2" x2="337.0" y2="396.2" stroke="#999" stroke-width="0.9" stroke-dasharray="2.1,2.5"/>
<path d="M226.0,366.0 L226.1,365.0 L226.2,364.0 L226.3,363.0 L226.4,362.0 L226.5,361.0 L226.6,360.0 L226.7,359.0 L226.8,358.0 L226.9,357.0 L227.0,356.0 L227.1,355.0 L227.2,354.0 L227.3,353.0 L227.4,352.0 L227.5,351.0 L227.6,350.0 L227.7,349.0 L227.8,348.0 L227.9,347.0 L227.9,346.0 L228.0,345.0 L228.0,344.0 L228.1,343.0 L228.2,342.0 L228.2,341.0 L228.3,340.0 L228.4,339.0 L228.4,338.0 L228.5,337.0 L228.5,336.0 L228.6,335.0 L228.7,334.0 L228.7,333.0 L228.8,332.0 L228.8,331.0 L228.9,330.0 L229.0,329.0 L229.0,328.0 L229.1,326.9 L229.2,325.9 L229.2,324.9 L229.3,323.8 L229.3,322.8 L229.4,321.7 L229.6,320.6 L229.7,319.5 L229.9,318.4 L230.1,317.3 L230.2,316.2 L230.4,315.1 L230.6,314.0 L230.7,312.9 L230.9,311.8 L231.1,310.7 L231.2,309.6 L231.4,308.5 L231.5,307.4 L231.7,306.3 L231.9,305.2 L232.0,304.1 L232.2,303.0 L232.4,301.9 L232.5,300.8 L232.7,299.6 L233.1,298.4 L233.5,297.2 L233.8,295.9 L234.2,294.7 L234.6,293.4 L235.0,292.2 L235.3,291.0 L235.7,289.7 L236.1,288.5 L236.5,287.2 L236.8,286.0 L237.2,284.8 L237.6,283.5 L238.7,281.7 L239.8,279.9 L240.9,278.7 L242.0,277.6 L243.1,276.4 L244.2,275.3 L245.3,274.9 L246.4,274.4 L247.5,273.9 L248.6,273.5 L249.7,273.0 L250.8,272.6 L251.9,272.1 L253.0,271.7 L254.1,271.2 L255.2,271.1 L256.3,271.0 L257.3,270.8 L258.4,270.7 L259.5,270.6 L260.6,270.5 L261.7,270.3 L262.7,270.2 L263.8,270.1 L264.9,270.0 L265.9,270.0 L266.9,270.1 L267.9,270.1 L268.9,270.2 L269.9,270.3 L270.9,270.3 L271.9,270.4 L272.9,270.4 L273.9,270.5 L274.9,270.5 L275.9,270.6 L276.9,270.6 L277.9,270.7 L278.9,270.8 L279.9,270.8 L280.9,270.9 L281.9,270.9 L282.9,271.0 L283.9,271.0 L284.9,271.1 L285.9,271.1 L286.9,271.2 L287.9,271.2 L288.9,271.2 L289.9,271.3 L290.9,271.3 L291.9,271.4 L292.9,271.4 L293.9,271.5 L294.9,271.5 L295.9,271.5 L296.9,271.6 L297.9,271.7 L298.9,271.8 L300.0,271.9 L301.0,272.0 L302.0,272.2 L303.0,272.3 L304.1,272.4 L305.1,272.5 L306.1,272.6 L307.1,272.7 L308.1,272.8 L309.2,272.9 L310.2,273.1 L311.2,273.2 L312.2,273.3 L313.2,273.4 L314.3,273.5 L315.3,273.6 L316.3,273.7 L317.3,273.9 L318.4,274.0 L319.4,274.1 L320.4,274.2 L321.4,274.4 L322.5,274.6 L323.5,274.8 L324.6,275.1 L325.6,275.3 L326.7,275.5 L327.7,275.7 L328.8,275.9 L329.8,276.1 L330.9,276.4 L331.9,276.6 L333.0,276.8 L334.0,277.0 L334.0,303.0 L333.0,302.7 L331.9,302.5 L330.9,302.2 L329.8,302.0 L328.8,301.7 L327.7,301.4 L326.7,301.2 L325.6,300.9 L324.6,300.7 L323.5,300.4 L322.5,300.1 L321.4,299.9 L320.4,299.6 L319.4,299.5 L318.4,299.3 L317.3,299.1 L316.3,299.0 L315.3,298.8 L314.3,298.7 L313.2,298.5 L312.2,298.4 L311.2,298.2 L310.2,298.0 L309.2,297.9 L308.1,297.7 L307.1,297.6 L306.1,297.4 L305.1,297.3 L304.1,297.1 L303.0,296.9 L302.0,296.8 L301.0,296.6 L300.0,296.5 L298.9,296.3 L297.9,296.2 L296.9,296.0 L295.9,295.9 L294.9,295.8 L293.9,295.8 L292.9,295.7 L291.9,295.6 L290.9,295.5 L289.9,295.4 L288.9,295.3 L287.9,295.2 L286.9,295.2 L285.9,295.1 L284.9,295.0 L283.9,294.9 L282.9,294.8 L281.9,294.7 L280.9,294.6 L279.9,294.5 L278.9,294.4 L277.9,294.3 L276.9,294.2 L275.9,294.1 L274.9,294.0 L273.9,293.9 L272.9,293.8 L271.9,293.7 L270.9,293.6 L269.9,293.5 L268.9,293.4 L267.9,293.3 L266.9,293.2 L265.9,293.1 L264.9,293.0 L263.8,293.1 L262.7,293.2 L261.7,293.3 L260.6,293.3 L259.5,293.4 L258.4,293.5 L257.3,293.6 L256.3,293.6 L255.2,293.7 L254.1,293.8 L253.0,294.2 L251.9,294.6 L250.8,295.0 L249.7,295.4 L248.6,295.8 L247.5,296.3 L246.4,296.7 L245.3,297.1 L244.2,297.5 L243.1,298.6 L242.0,299.6 L240.9,300.7 L239.8,301.7 L238.7,302.1 L237.6,302.5 L237.2,303.2 L236.8,304.0 L236.5,304.8 L236.1,305.5 L235.7,306.3 L235.3,307.0 L235.0,307.8 L234.6,308.6 L234.2,309.3 L233.8,310.1 L233.5,310.8 L233.1,311.6 L232.7,312.4 L232.5,313.2 L232.4,314.1 L232.2,315.0 L232.0,315.9 L231.9,316.8 L231.7,317.7 L231.5,318.6 L231.4,319.5 L231.2,320.4 L231.1,321.3 L230.9,322.2 L230.7,323.1 L230.6,324.0 L230.4,324.9 L230.2,325.8 L230.1,326.7 L229.9,327.6 L229.7,328.5 L229.6,329.4 L229.4,330.3 L229.3,331.2 L229.3,332.2 L229.2,333.1 L229.2,334.1 L229.1,335.1 L229.0,336.0 L229.0,337.0 L228.9,338.0 L228.8,339.0 L228.8,340.0 L228.7,341.0 L228.7,342.0 L228.6,343.0 L228.5,344.0 L228.5,345.0 L228.4,346.0 L228.4,347.0 L228.3,348.0 L228.2,349.0 L228.2,350.0 L228.1,351.0 L228.0,352.0 L228.0,353.0 L227.9,354.0 L227.9,355.0 L227.8,356.0 L227.7,357.0 L227.6,358.0 L227.5,359.0 L227.4,360.0 L227.3,361.0 L227.2,362.0 L227.1,363.0 L227.0,364.0 L226.9,365.0 L226.8,366.0 L226.7,367.0 L226.6,368.0 L226.5,369.0 L226.4,370.0 L226.3,371.0 L226.2,372.0 L226.1,373.0 L226.0,374.0 Z" fill="#e4e6e8" stroke="#d2d6da" stroke-width="0.6"/>
<path d="M223.6,393.0 L224.3,391.9 L225.1,390.8 L225.8,389.7 L226.6,388.6 L227.3,387.6 L228.0,386.5 L228.8,385.4 L229.5,384.3 L230.3,383.2 L231.0,382.0 L231.6,380.9 L232.2,379.8 L232.8,378.7 L233.4,377.6 L234.0,376.5 L234.6,375.4 L235.2,374.3 L235.8,373.2 L236.4,372.1 L237.0,370.9 L237.6,369.8 L238.6,368.7 L239.7,367.6 L240.7,366.5 L241.8,365.3 L242.8,364.2 L243.8,363.1 L244.9,361.9 L245.9,360.8 L246.9,360.1 L247.9,359.4 L249.0,358.7 L250.0,357.9 L251.0,357.2 L252.1,356.5 L253.1,355.8 L254.1,355.1 L255.2,354.5 L256.3,353.9 L257.3,353.3 L258.4,352.7 L259.5,352.1 L260.6,351.5 L261.7,351.0 L262.7,350.5 L263.8,349.9 L264.9,349.4 L265.9,349.1 L266.9,348.9 L267.9,348.6 L268.9,348.3 L269.9,348.0 L270.9,347.7 L271.9,347.4 L273.0,347.1 L274.0,346.9 L275.0,346.6 L276.0,346.3 L277.0,346.0 L278.0,345.7 L279.0,345.4 L280.0,345.1 L281.0,345.3 L282.0,345.5 L283.1,345.7 L284.1,345.9 L285.1,346.2 L286.1,346.4 L287.1,346.6 L288.1,346.8 L289.2,347.0 L290.2,347.2 L291.2,347.4 L292.2,347.6 L293.2,347.8 L294.3,348.0 L295.3,348.2 L296.3,348.4 L297.3,348.9 L298.4,349.3 L299.4,349.7 L300.5,350.2 L301.5,350.6 L302.5,351.1 L303.6,351.5 L304.6,352.0 L305.6,352.4 L306.7,352.8 L307.7,353.3 L308.8,353.7 L309.8,354.2 L310.8,354.6 L311.9,355.1 L312.9,355.5 L313.9,355.9 L315.0,356.4 L316.0,356.8 L317.1,357.3 L318.1,357.7 L319.2,358.2 L320.3,358.8 L321.4,359.3 L322.5,359.8 L323.6,360.3 L324.6,360.9 L325.7,361.4 L326.8,361.9 L327.9,362.4 L329.0,363.0 L330.2,364.2 L331.4,365.4 L332.7,366.6 L333.9,367.8 L333.9,381.8 L332.7,380.6 L331.4,379.3 L330.2,378.1 L329.0,376.8 L327.9,376.3 L326.8,375.7 L325.7,375.2 L324.6,374.6 L323.6,374.1 L322.5,373.5 L321.4,372.9 L320.3,372.4 L319.2,371.8 L318.1,371.3 L317.1,370.8 L316.0,370.3 L315.0,369.9 L313.9,369.4 L312.9,368.9 L311.9,368.5 L310.8,368.0 L309.8,367.5 L308.8,367.0 L307.7,366.6 L306.7,366.1 L305.6,365.6 L304.6,365.2 L303.6,364.7 L302.5,364.2 L301.5,363.7 L300.5,363.3 L299.4,362.8 L298.4,362.3 L297.3,361.9 L296.3,361.4 L295.3,361.2 L294.3,360.9 L293.2,360.7 L292.2,360.5 L291.2,360.2 L290.2,360.0 L289.2,359.8 L288.1,359.5 L287.1,359.3 L286.1,359.1 L285.1,358.8 L284.1,358.6 L283.1,358.4 L282.0,358.1 L281.0,357.9 L280.0,357.7 L279.0,357.9 L278.0,358.2 L277.0,358.4 L276.0,358.7 L275.0,359.0 L274.0,359.2 L273.0,359.5 L271.9,359.7 L270.9,360.0 L269.9,360.3 L268.9,360.5 L267.9,360.8 L266.9,361.0 L265.9,361.3 L264.9,361.6 L263.8,362.1 L262.7,362.5 L261.7,363.0 L260.6,363.5 L259.5,363.9 L258.4,364.3 L257.3,364.7 L256.3,365.1 L255.2,365.5 L254.1,365.9 L253.1,366.4 L252.1,366.9 L251.0,367.4 L250.0,367.9 L249.0,368.5 L247.9,369.0 L246.9,369.5 L245.9,370.0 L244.9,370.9 L243.8,371.8 L242.8,372.8 L241.8,373.7 L240.7,374.6 L239.7,375.5 L238.6,376.4 L237.6,377.4 L237.0,378.3 L236.4,379.3 L235.8,380.3 L235.2,381.3 L234.6,382.3 L234.0,383.3 L233.4,384.3 L232.8,385.2 L232.2,386.2 L231.6,387.2 L231.0,388.2 L230.3,389.2 L229.5,390.3 L228.8,391.4 L228.0,392.5 L227.3,393.6 L226.6,394.6 L225.8,395.7 L225.1,396.8 L224.3,397.9 L223.6,399.0 Z" fill="#e4e6e8" stroke="#d2d6da" stroke-width="0.6"/>
<path d="M191.5,389.3 L192.4,389.8 L193.2,389.9 L194.1,390.9 L195.0,390.9 L195.8,391.5 L196.7,392.4 L197.5,392.4 L198.4,393.2 L199.2,393.5 L200.1,393.6 L200.9,393.9 L201.8,394.2 L202.6,394.3 L203.4,395.2 L204.3,395.1 L205.1,396.0 L205.9,396.4 L206.7,395.8 L207.6,395.9 L208.4,396.4 L209.3,396.9 L210.2,396.3 L211.0,396.6 L211.9,396.4 L212.8,396.9 L213.7,397.2 L214.5,397.2 L215.4,396.6 L216.3,396.7 L217.2,396.4 L218.0,396.6 L218.9,396.2 L219.8,396.4 L220.7,396.6 L221.5,396.4 L222.4,396.2 L222.5,395.4 L222.6,394.3 L222.7,392.8 L222.9,392.6 L223.0,391.5 L223.1,390.0 L223.2,389.3 L223.3,388.6 L223.4,387.5 L223.6,387.5 L223.7,386.1 L223.8,385.9 L223.9,385.0 L224.0,383.7 L224.1,382.8 L224.3,382.1 L224.4,380.9 L224.5,380.7 L224.6,380.0 L224.7,379.7 L224.8,378.9 L225.0,378.1 L225.1,377.5 L225.2,376.7 L225.3,375.6 L225.4,374.5 L225.5,373.5 L225.7,372.9 L225.8,372.4 L225.9,371.6 L226.0,370.8 L226.1,369.0 L226.2,368.2 L226.2,367.0 L226.3,366.5 L226.4,365.9 L226.5,365.2 L226.6,364.7 L226.7,363.4 L226.7,362.9 L226.8,362.0 L226.9,360.8 L227.0,360.6 L227.1,359.1 L227.1,358.3 L227.2,357.7 L227.3,357.0 L227.4,356.7 L227.5,355.6 L227.6,355.1 L227.6,353.7 L227.7,352.8 L227.8,351.6 L227.9,351.1 L227.9,350.3 L228.0,349.8 L228.0,348.4 L228.1,347.7 L228.1,347.6 L228.2,346.0 L228.2,345.5 L228.2,344.9 L228.3,344.3 L228.4,343.3 L228.4,342.4 L228.5,342.1 L228.5,340.7 L228.6,340.1 L228.6,339.3 L228.7,338.6 L228.7,337.6 L228.8,336.1 L228.8,335.8 L228.8,334.7 L228.9,334.4 L229.0,334.0 L229.0,333.2 L229.1,331.9 L229.1,331.4 L229.2,330.2 L229.2,329.1 L229.2,328.4 L229.3,327.8 L229.3,327.1 L229.4,326.2 L229.5,325.2 L229.7,324.7 L229.8,323.5 L229.9,322.9 L230.1,321.5 L230.2,320.5 L230.3,320.5 L230.5,319.3 L230.6,318.5 L230.7,317.3 L230.9,317.2 L231.0,316.2 L231.1,315.0 L231.2,314.2 L231.4,314.2 L231.5,313.6 L231.6,312.0 L231.8,312.0 L231.9,310.5 L232.0,309.8 L232.2,309.1 L232.3,308.7 L232.4,307.3 L232.6,307.1 L232.7,305.9 L233.0,305.4 L233.3,305.0 L233.6,304.0 L233.9,302.4 L234.2,301.9 L234.5,301.1 L234.8,300.6 L235.1,300.0 L235.5,298.4 L235.8,297.8 L236.1,297.2 L236.4,296.8 L236.7,295.9 L237.0,295.0 L237.3,294.3 L237.6,292.8 L238.4,292.5 L239.2,291.6 L240.1,290.8 L240.9,289.4 L241.7,288.8 L242.5,287.9 L243.4,286.8 L244.2,286.7 L245.0,286.6 L245.8,286.0 L246.7,285.0 L247.5,285.5 L248.3,284.5 L249.1,284.3 L250.0,284.1 L250.8,284.2 L251.6,283.9 L252.4,283.5 L253.3,283.0 L254.1,283.2 L254.9,283.1 L255.8,282.5 L256.6,282.7 L257.4,283.0 L258.3,282.5 L259.1,281.7 L259.9,281.3 L260.7,282.1 L261.6,281.6 L262.4,282.0 L263.2,281.4 L264.1,281.1 L264.9,280.9 L265.7,281.6 L266.5,281.2 L267.4,281.4 L268.2,282.0 L269.0,282.0 L269.8,281.4 L270.6,281.1 L271.4,282.0 L272.3,281.8 L273.1,281.5 L273.9,281.9 L274.7,282.5 L275.5,282.2 L276.4,281.9 L277.2,281.8 L278.0,282.2 L278.8,282.7 L279.6,282.2 L280.4,282.8 L281.3,283.0 L282.1,283.0 L282.9,282.9 L283.7,282.4 L284.5,282.7 L285.4,282.8 L286.2,283.2 L287.0,282.7 L287.8,282.6 L288.7,282.4 L289.5,282.9 L290.3,282.6 L291.1,283.1 L292.0,283.2 L292.8,283.2 L293.6,283.1 L294.4,283.9 L295.3,283.8 L296.1,283.3 L296.9,283.7 L297.7,284.2 L298.5,284.1 L299.3,284.6 L300.1,284.9 L301.0,284.9 L301.8,284.1 L302.6,284.3 L303.4,284.5 L304.2,284.3 L305.0,284.6 L305.8,285.1 L306.6,285.4 L307.4,285.7 L308.2,285.8 L309.1,285.4 L309.9,285.7 L310.7,285.7 L311.5,286.1 L312.3,285.6 L313.1,285.4 L313.9,286.0 L314.7,286.4 L315.5,286.1 L316.3,286.6 L317.2,286.9 L318.0,287.0 L318.8,286.8 L319.6,286.3 L320.4,286.3 L321.2,287.1 L322.0,287.8 L322.8,287.3 L323.6,287.0 L324.4,287.3 L325.2,288.3 L326.0,288.0 L326.8,288.8 L327.6,289.1 L328.4,289.4 L329.2,289.8 L330.0,289.8 L330.8,289.2 L331.6,289.4 L332.4,289.5 L333.2,289.9 L334.0,289.9" fill="none" stroke="#a66a36" stroke-width="1.2" stroke-linejoin="round"/>
<path d="M191.5,396.6 L192.4,396.2 L193.2,396.9 L194.1,397.3 L195.0,398.2 L195.8,398.2 L196.7,399.0 L197.5,398.4 L198.4,399.3 L199.2,399.0 L200.1,398.7 L200.9,398.9 L201.8,399.3 L202.6,398.9 L203.5,399.3 L204.4,399.2 L205.4,399.3 L206.3,399.6 L207.2,400.0 L208.0,399.8 L208.9,400.2 L209.7,399.9 L210.6,400.1 L211.4,400.2 L212.3,400.1 L213.1,399.9 L214.0,399.3 L214.8,399.0 L215.7,399.0 L216.6,398.5 L217.5,397.6 L218.3,397.6 L219.2,397.4 L220.1,396.8 L221.0,396.2 L221.8,395.9 L222.7,396.2 L223.6,396.3 L224.2,395.5 L224.7,394.4 L225.3,393.0 L225.9,391.8 L226.4,391.6 L227.0,390.9 L227.6,390.0 L228.2,388.9 L228.7,387.8 L229.3,386.9 L229.9,386.0 L230.4,385.7 L231.0,384.7 L231.5,384.2 L231.9,383.3 L232.4,382.6 L232.9,382.1 L233.4,381.5 L233.8,380.0 L234.3,379.8 L234.8,379.2 L235.2,378.4 L235.7,377.2 L236.2,376.8 L236.7,376.0 L237.1,374.5 L237.6,373.8 L238.4,373.3 L239.3,372.5 L240.1,371.9 L240.9,370.7 L241.8,369.9 L242.6,368.4 L243.4,367.9 L244.2,366.6 L245.1,366.3 L245.9,365.9 L246.7,365.0 L247.5,364.0 L248.4,363.2 L249.2,363.1 L250.0,362.4 L250.8,362.4 L251.6,362.1 L252.5,361.5 L253.3,361.2 L254.1,360.2 L254.9,359.9 L255.8,359.1 L256.6,359.1 L257.4,359.2 L258.3,358.3 L259.1,358.3 L259.9,358.4 L260.7,357.5 L261.6,356.7 L262.4,356.2 L263.2,356.4 L264.1,355.5 L264.9,355.6 L265.7,355.0 L266.6,355.2 L267.4,355.4 L268.3,355.3 L269.1,354.3 L269.9,354.2 L270.8,353.7 L271.6,354.0 L272.4,353.4 L273.3,352.8 L274.1,352.7 L275.0,352.1 L275.8,351.9 L276.6,352.2 L277.5,351.8 L278.3,351.4 L279.2,351.9 L280.0,351.2 L280.8,351.9 L281.6,352.1 L282.4,352.2 L283.3,352.4 L284.1,352.5 L284.9,353.0 L285.7,353.1 L286.5,352.8 L287.3,353.1 L288.1,353.2 L289.0,353.9 L289.8,353.3 L290.6,353.5 L291.4,354.3 L292.2,353.7 L293.0,354.3 L293.9,354.9 L294.7,355.0 L295.5,354.4 L296.3,355.1 L297.1,355.1 L297.9,355.5 L298.7,356.3 L299.5,356.3 L300.3,356.3 L301.1,356.4 L302.0,356.9 L302.8,357.0 L303.6,358.0 L304.4,358.8 L305.2,358.4 L306.0,359.0 L306.8,359.8 L307.6,360.3 L308.4,360.2 L309.2,360.6 L310.0,361.2 L310.8,361.4 L311.6,362.3 L312.4,362.8 L313.3,363.3 L314.1,362.8 L314.9,362.5 L315.7,363.3 L316.5,363.8 L317.3,363.9 L318.1,364.1 L318.9,365.0 L319.8,365.7 L320.6,365.4 L321.5,365.5 L322.3,366.5 L323.1,366.9 L324.0,366.9 L324.8,368.1 L325.6,368.2 L326.5,368.1 L327.3,368.7 L328.2,369.2 L329.0,369.9 L329.8,371.0 L330.6,371.2 L331.4,372.1 L332.3,373.5 L333.1,374.2 L333.9,375.4" fill="none" stroke="#a66a36" stroke-width="1.2" stroke-linejoin="round"/>
<path d="M191.5,394.2 L192.5,394.1 L193.5,394.1 L194.5,394.0 L195.5,394.0 L196.5,393.9 L197.6,393.9 L198.6,393.8 L199.6,393.8 L200.6,393.7 L201.6,393.7 L202.6,393.6 L203.7,393.6 L204.7,393.5 L205.8,393.5 L206.9,393.4 L207.9,393.4 L209.0,393.3 L210.1,393.3 L211.1,393.3 L212.2,393.2 L213.3,393.2 L214.3,393.1 L215.4,393.1 L216.5,393.0 L217.5,393.0 L218.6,392.9 L219.7,392.9 L220.7,392.8 L221.8,392.8 L222.8,392.7 L223.9,392.7 L225.0,392.6 L226.0,392.6 L227.1,392.5 L228.2,392.5 L229.2,392.4 L230.3,392.4 L231.4,392.4 L232.5,392.4 L233.6,392.3 L234.6,392.3 L235.7,392.3 L236.8,392.3 L237.8,392.2 L238.9,392.2 L240.0,392.2 L241.0,392.2 L242.1,392.1 L243.1,392.1 L244.2,392.1 L245.2,392.0 L246.3,392.0 L247.3,391.9 L248.3,391.9 L249.4,391.9 L250.4,391.8 L251.5,391.8 L252.5,391.8 L253.5,391.7 L254.6,391.7 L255.6,391.6 L256.7,391.6 L257.7,391.6 L258.8,391.5 L259.8,391.5 L260.9,391.1 L262.0,390.7 L263.1,390.3 L264.1,389.9 L265.2,389.5 L266.3,389.1 L267.4,389.2 L268.5,389.3 L269.6,389.3 L270.7,389.4 L271.8,389.5 L272.8,389.6 L273.9,389.7 L275.0,389.7 L276.1,389.8 L277.2,389.9 L278.3,390.0 L279.3,390.0 L280.4,390.1 L281.4,390.1 L282.5,390.2 L283.5,390.3 L284.6,390.3 L285.6,390.4 L286.7,390.5 L287.7,390.5 L288.8,390.6 L289.8,390.6 L290.9,390.7 L291.9,390.6 L292.9,390.6 L293.9,390.5 L294.9,390.5 L295.9,390.4 L296.9,390.4 L297.9,390.3 L298.9,390.2 L299.9,390.2 L300.9,390.1 L301.9,390.1 L302.9,390.0 L303.9,389.9 L304.9,389.9 L305.9,389.8 L306.9,389.8 L307.9,389.7 L308.9,389.7 L309.9,389.6 L311.0,389.5 L312.0,389.5 L313.0,389.4 L314.0,389.4 L315.0,389.3 L316.0,389.3 L317.0,389.2 L318.0,389.1 L319.0,389.1 L320.0,389.0 L321.0,389.0 L322.0,388.9 L323.0,388.8 L324.0,388.8 L325.0,388.7 L326.0,388.7 L327.0,388.6 L328.0,388.6 L329.0,388.5 L330.0,388.8 L331.0,389.1 L332.0,389.3 L333.0,389.6 L334.0,389.9 L334.0,393.5 L333.0,393.2 L332.0,392.9 L331.0,392.7 L330.0,392.4 L329.0,392.1 L328.0,392.2 L327.0,392.2 L326.0,392.3 L325.0,392.3 L324.0,392.4 L323.0,392.4 L322.0,392.5 L321.0,392.6 L320.0,392.6 L319.0,392.7 L318.0,392.7 L317.0,392.8 L316.0,392.9 L315.0,392.9 L314.0,393.0 L313.0,393.0 L312.0,393.1 L311.0,393.1 L309.9,393.2 L308.9,393.3 L307.9,393.3 L306.9,393.4 L305.9,393.4 L304.9,393.5 L303.9,393.5 L302.9,393.6 L301.9,393.7 L300.9,393.7 L299.9,393.8 L298.9,393.8 L297.9,393.9 L296.9,394.0 L295.9,394.0 L294.9,394.1 L293.9,394.1 L292.9,394.2 L291.9,394.2 L290.9,394.3 L289.8,394.2 L288.8,394.2 L287.7,394.1 L286.7,394.1 L285.6,394.0 L284.6,393.9 L283.5,393.9 L282.5,393.8 L281.4,393.7 L280.4,393.7 L279.3,393.6 L278.3,393.6 L277.2,393.5 L276.1,393.4 L275.0,393.3 L273.9,393.3 L272.8,393.2 L271.8,393.1 L270.7,393.0 L269.6,392.9 L268.5,392.9 L267.4,392.8 L266.3,392.7 L265.2,393.1 L264.1,393.5 L263.1,393.9 L262.0,394.3 L260.9,394.7 L259.8,395.1 L258.8,395.1 L257.7,395.2 L256.7,395.2 L255.6,395.2 L254.6,395.3 L253.5,395.3 L252.5,395.4 L251.5,395.4 L250.4,395.4 L249.4,395.5 L248.3,395.5 L247.3,395.5 L246.3,395.6 L245.2,395.6 L244.2,395.7 L243.1,395.7 L242.1,395.7 L241.0,395.8 L240.0,395.8 L238.9,395.8 L237.8,395.9 L236.8,395.9 L235.7,395.9 L234.6,395.9 L233.6,395.9 L232.5,396.0 L231.4,396.0 L230.3,396.0 L229.2,396.1 L228.2,396.1 L227.1,396.1 L226.0,396.2 L225.0,396.2 L223.9,396.3 L222.8,396.3 L221.8,396.4 L220.7,396.4 L219.7,396.5 L218.6,396.5 L217.5,396.6 L216.5,396.6 L215.4,396.7 L214.3,396.7 L213.3,396.8 L212.2,396.8 L211.1,396.9 L210.1,396.9 L209.0,396.9 L207.9,397.0 L206.9,397.0 L205.8,397.1 L204.7,397.1 L203.7,397.2 L202.6,397.2 L201.6,397.3 L200.6,397.3 L199.6,397.4 L198.6,397.4 L197.6,397.5 L196.5,397.5 L195.5,397.6 L194.5,397.6 L193.5,397.7 L192.5,397.7 L191.5,397.8 Z" fill="#dfe3ef" stroke="#c7cfe6" stroke-width="0.6"/>
<path d="M191.5,396.2 L192.4,396.6 L193.2,396.2 L194.1,396.3 L194.9,396.6 L195.8,396.2 L196.6,396.3 L197.5,396.3 L198.3,396.4 L199.2,395.3 L200.0,395.0 L200.9,395.9 L201.7,396.0 L202.6,395.3 L203.4,395.7 L204.2,395.0 L205.0,395.0 L205.8,395.0 L206.6,394.7 L207.4,394.5 L208.2,394.8 L209.0,395.2 L209.8,394.9 L210.6,395.2 L211.4,395.8 L212.2,394.8 L213.0,394.6 L213.8,394.2 L214.6,394.8 L215.4,394.7 L216.2,394.7 L217.1,394.4 L217.9,394.9 L218.7,395.2 L219.6,394.8 L220.4,395.2 L221.2,394.5 L222.1,394.3 L222.9,395.0 L223.8,394.3 L224.6,393.9 L225.4,393.4 L226.3,394.1 L227.1,394.6 L227.9,393.8 L228.7,394.0 L229.5,394.0 L230.3,393.8 L231.1,393.6 L231.9,393.7 L232.7,393.4 L233.6,394.4 L234.4,393.8 L235.2,394.0 L236.0,394.2 L236.8,394.4 L237.6,394.2 L238.4,394.1 L239.2,394.7 L240.0,393.9 L240.8,393.5 L241.7,393.4 L242.5,394.0 L243.3,393.8 L244.1,393.7 L244.9,393.1 L245.8,392.9 L246.6,393.5 L247.4,393.2 L248.2,393.4 L249.1,393.2 L249.9,393.1 L250.7,392.9 L251.6,393.8 L252.4,393.8 L253.2,393.7 L254.0,393.2 L254.9,393.8 L255.7,393.7 L256.5,393.0 L257.3,392.7 L258.2,393.7 L259.0,393.2 L259.8,393.1 L260.6,392.3 L261.4,392.9 L262.2,392.1 L263.1,392.1 L263.9,392.1 L264.7,391.7 L265.5,391.1 L266.3,390.5 L267.1,391.0 L268.0,390.7 L268.8,391.1 L269.7,391.8 L270.5,392.1 L271.3,392.0 L272.2,391.8 L273.0,391.2 L273.8,391.8 L274.7,392.2 L275.5,391.7 L276.4,391.1 L277.2,391.5 L278.0,391.5 L278.8,392.2 L279.6,392.4 L280.4,392.1 L281.2,392.1 L282.0,392.0 L282.8,392.3 L283.6,392.4 L284.5,392.5 L285.3,392.0 L286.1,392.5 L286.9,391.8 L287.7,391.7 L288.5,392.2 L289.3,391.6 L290.1,392.2 L290.9,392.1 L291.7,392.0 L292.5,391.6 L293.3,391.8 L294.1,392.1 L295.0,391.5 L295.8,392.3 L296.6,392.9 L297.4,392.5 L298.2,392.3 L299.0,392.6 L299.8,392.5 L300.6,392.4 L301.4,392.1 L302.2,392.0 L303.1,391.7 L303.9,391.1 L304.7,391.8 L305.5,391.9 L306.3,391.1 L307.1,391.7 L307.9,392.3 L308.7,391.7 L309.5,392.1 L310.4,391.3 L311.2,391.5 L312.0,391.8 L312.8,391.4 L313.6,391.0 L314.4,390.5 L315.2,390.8 L316.0,390.7 L316.8,390.8 L317.7,391.0 L318.5,390.6 L319.3,390.6 L320.1,390.0 L320.9,390.6 L321.7,391.0 L322.5,390.5 L323.3,390.1 L324.1,390.5 L324.9,390.4 L325.8,390.9 L326.6,391.0 L327.4,390.6 L328.2,390.3 L329.0,390.4 L329.8,390.7 L330.7,390.8 L331.5,391.1 L332.3,391.1 L333.2,391.7 L334.0,391.8" fill="none" stroke="#7e8ec4" stroke-width="1.1" stroke-linejoin="round"/>
<text x="177.9" y="276.7" font-size="11.9" fill="#2b82b3" text-anchor="start" font-weight="normal">[cAMP]</text>
<text x="334.0" y="254.0" font-size="11" fill="#a46e46" text-anchor="end" font-weight="normal">Bay<tspan dx='1'>60-6583</tspan></text>
<text x="335.0" y="266.5" font-size="11" fill="#111" text-anchor="end" font-weight="normal">1<tspan dx='1.2'>µM</tspan></text>
<text x="334.0" y="336.4" font-size="11" fill="#a46e46" text-anchor="end" font-weight="normal">Bay<tspan dx='1'>60-6583</tspan></text>
<text x="334.8" y="349.5" font-size="11" fill="#111" text-anchor="end" font-weight="normal">0.1<tspan dx='1.2'>µM</tspan></text>
<text x="275.9" y="408.6" font-size="11" fill="#7e8ec4" text-anchor="start" font-weight="normal">CGS21680</text>
<line x1="213.5" y1="326.0" x2="213.5" y2="364.5" stroke="#1a1a1a" stroke-width="2"/>
<text x="208.0" y="379.5" font-size="11.4" fill="#333" text-anchor="start" font-weight="normal" transform="rotate(-90 208.0 379.5)">10% ΔFI ratio</text>
<line x1="195.8" y1="412.7" x2="239.8" y2="412.7" stroke="#1a1a1a" stroke-width="2"/>
<text x="205.0" y="424.9" font-size="11.4" fill="#333" text-anchor="start" font-weight="normal">5<tspan dx='1.5'>min</tspan></text></svg>
</body></html>
